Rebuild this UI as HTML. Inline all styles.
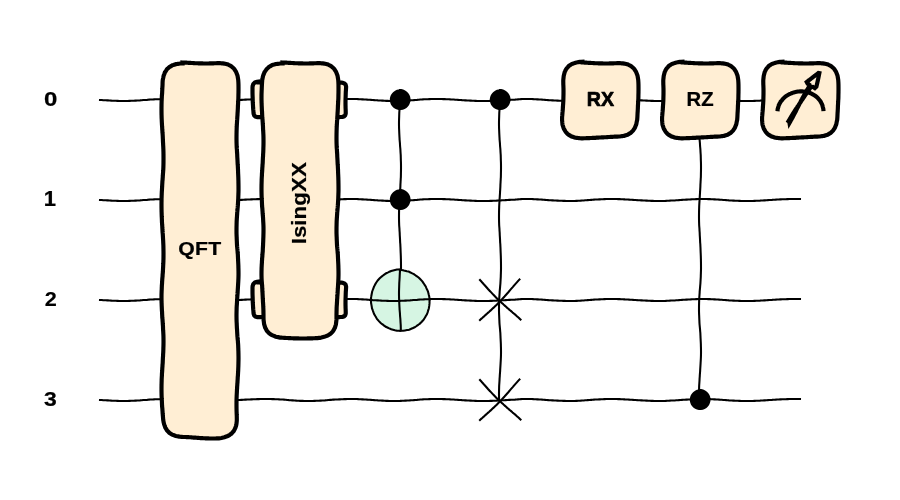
<!DOCTYPE html>
<html><head><meta charset="utf-8"><title>Quantum circuit</title><style>
html,body{margin:0;padding:0;background:#fff;width:900px;height:500px;overflow:hidden}
svg{display:block;will-change:transform}
text{font-family:"Liberation Sans",sans-serif;font-weight:bold;fill:#000}
</style></head><body>
<svg width="900" height="500" viewBox="0 0 900 500">
<rect x="0" y="0" width="900" height="500" fill="#fff"/>
<path fill="none" stroke="#000000" stroke-width="2.08" stroke-linecap="square" stroke-linejoin="round" d="M100 100 101 100.03 102 100.07 103 100.17 104 100.2 105 100.27 106 100.31 107 100.35 108 100.4 109 100.47 110 100.53 111 100.59 112 100.67 113 100.72 114 100.76 115 100.79 116 100.82 117 100.84 118 100.89 119 100.92 120 100.95 121 100.98 122 100.99 123 101 124 101 125 100.99 126 100.98 127 100.95 128 100.94 129 100.9 130 100.85 131 100.81 132 100.77 133 100.73 134 100.69 135 100.63 136 100.59 137 100.54 138 100.47 139 100.44 140 100.38 141 100.27 142 100.2 143 100.08 144 100.04 145 99.98 146 99.93 147 99.85 148 99.73 149 99.66 150 99.58 151 99.54 152 99.49 153 99.42 154 99.36 155 99.28 156 99.25 157 99.23 158 99.2 159 99.18 160 99.16 161 99.11 162 99.07 163 99.04 164 99.02 165 99.01 166 99 167 99 168 99 169 99 170 99.02 171 99.02 172 99.05 173 99.07 174 99.09 175 99.1 176 99.12 177 99.14 178 99.2 179 99.28 180 99.31 181 99.38 182 99.43 183 99.47 184 99.56 185 99.59 186 99.62 187 99.65 188 99.7 189 99.77 190 99.81 191 99.9 192 99.95 193 100 194 100.04 195 100.14 196 100.19 197 100.25 198 100.32 199 100.42 200 100.46 201 100.51 202 100.57 203 100.62 204 100.7 205 100.73 206 100.8 207 100.82 208 100.85 209 100.89 210 100.92 211 100.93 212 100.96 213 100.97 214 100.98 215 100.99 216 101 217 101 218 100.99 219 100.98 220 100.97 221 100.95 222 100.93 223 100.89 224 100.86 225 100.84 226 100.77 227 100.7 228 100.6 229 100.55 230 100.5 231 100.46 232 100.36 233 100.3 234 100.27 235 100.24 236 100.18 237 100.11 238 100.06 239 99.99 240 99.96 241 99.91 242 99.87 243 99.81 244 99.7 245 99.65 246 99.61 247 99.56 248 99.5 249 99.47 250 99.44 251 99.4 252 99.37 253 99.31 254 99.27 255 99.24 256 99.19 257 99.16 258 99.14 259 99.1 260 99.08 261 99.07 262 99.05 263 99.03 264 99.02 265 99.01 266 99.01 267 99 268 99 269 99 270 99.02 271 99.04 272 99.09 273 99.11 274 99.15 275 99.19 276 99.21 277 99.23 278 99.3 279 99.35 280 99.42 281 99.45 282 99.53 283 99.57 284 99.64 285 99.75 286 99.82 287 99.92 288 99.98 289 100.1 290 100.17 291 100.29 292 100.34 293 100.37 294 100.46 295 100.52 296 100.6 297 100.67 298 100.72 299 100.79 300 100.84 301 100.86 302 100.89 303 100.91 304 100.93 305 100.96 306 100.98 307 100.99 308 100.99 309 101 310 101 311 100.99 312 100.98 313 100.94 314 100.91 315 100.87 316 100.81 317 100.79 318 100.74 319 100.71 320 100.65 321 100.62 322 100.57 323 100.54 324 100.46 325 100.39 326 100.28 327 100.2 328 100.08 329 100.01 330 99.9 331 99.86 332 99.75 333 99.66 334 99.61 335 99.58 336 99.52 337 99.48 338 99.45 339 99.38 340 99.34 341 99.29 342 99.24 343 99.19 344 99.15 345 99.12 346 99.11 347 99.07 348 99.05 349 99.03 350 99.01 351 99 352 99 353 99 354 99.01 355 99.03 356 99.06 357 99.08 358 99.13 359 99.18 360 99.23 361 99.28 362 99.35 363 99.4 364 99.45 365 99.52 366 99.58 367 99.63 368 99.71 369 99.76 370 99.83 371 99.86 372 99.93 373 100.03 374 100.09 375 100.19 376 100.22 377 100.27 378 100.39 379 100.42 380 100.48 381 100.51 382 100.6 383 100.64 384 100.73 385 100.79 386 100.85 387 100.87 388 100.89 389 100.92 390 100.95 391 100.96 392 100.98 393 101 394 101 395 101 396 100.98 397 100.97 398 100.95 399 100.92 400 100.9 401 100.84 402 100.77 403 100.75 404 100.71 405 100.66 406 100.62 407 100.56 408 100.46 409 100.42 410 100.37 411 100.31 412 100.26 413 100.2 414 100.14 415 100.07 416 99.95 417 99.9 418 99.79 419 99.68 420 99.57 421 99.54 422 99.44 423 99.36 424 99.32 425 99.28 426 99.26 427 99.2 428 99.18 429 99.15 430 99.1 431 99.08 432 99.06 433 99.04 434 99.03 435 99.01 436 99 437 99 438 99.01 439 99.02 440 99.04 441 99.07 442 99.08 443 99.11 444 99.13 445 99.15 446 99.2 447 99.24 448 99.28 449 99.31 450 99.35 451 99.43 452 99.47 453 99.54 454 99.58 455 99.69 456 99.77 457 99.8 458 99.86 459 99.93 460 99.99 461 100.03 462 100.14 463 100.2 464 100.25 465 100.35 466 100.39 467 100.42 468 100.52 469 100.56 470 100.61 471 100.65 472 100.71 473 100.76 474 100.82 475 100.84 476 100.89 477 100.93 478 100.95 479 100.98 480 100.99 481 100.99 482 101 483 101 484 101 485 100.99 486 100.99 487 100.97 488 100.95 489 100.94 490 100.91 491 100.88 492 100.84 493 100.81 494 100.74 495 100.7 496 100.67 497 100.6 498 100.51 499 100.45 500 100.42 501 100.38 502 100.28 503 100.24 504 100.2 505 100.16 506 100.09 507 100.04 508 100.01 509 99.9 510 99.86 511 99.83 512 99.75 513 99.71 514 99.67 515 99.62 516 99.51 517 99.42 518 99.35 519 99.26 520 99.19 521 99.14 522 99.08 523 99.05 524 99.04 525 99.01 526 99 527 99 528 99.01 529 99.02 530 99.04 531 99.07 532 99.08 533 99.11 534 99.18 535 99.22 536 99.27 537 99.35 538 99.4 539 99.43 540 99.49 541 99.58 542 99.61 543 99.72 544 99.83 545 99.86 546 99.95 547 100.01 548 100.12 549 100.23 550 100.27 551 100.31 552 100.35 553 100.39 554 100.47 555 100.54 556 100.57 557 100.6 558 100.66 559 100.7 560 100.73 561 100.76 562 100.8 563 100.85 564 100.88 565 100.91 566 100.93 567 100.96 568 100.98 569 100.99 570 101 571 101 572 101 573 100.99 574 100.97 575 100.94 576 100.89 577 100.85 578 100.79 579 100.72 580 100.67 581 100.62 582 100.58 583 100.51 584 100.44 585 100.33 586 100.27 587 100.16 588 100.1 589 100.05 590 99.97 591 99.91 592 99.84 593 99.72 594 99.62 595 99.54 596 99.5 597 99.47 598 99.43 599 99.38 600 99.35 601 99.27 602 99.2 603 99.18 604 99.12 605 99.09 606 99.07 607 99.05 608 99.03 609 99.02 610 99.01 611 99 612 99 613 99.01 614 99.02 615 99.03 616 99.04 617 99.08 618 99.1 619 99.13 620 99.16 621 99.17 622 99.22 623 99.27 624 99.34 625 99.4 626 99.42 627 99.46 628 99.55 629 99.63 630 99.7 631 99.74 632 99.78 633 99.85 634 99.95 635 99.99 636 100.04 637 100.16 638 100.22 639 100.25 640 100.29 641 100.34 642 100.38 643 100.43 644 100.52 645 100.56 646 100.6 647 100.66 648 100.74 649 100.77 650 100.81 651 100.85 652 100.87 653 100.89 654 100.93 655 100.96 656 100.98 657 100.99 658 101 659 101 660 101 661 100.99 662 100.98 663 100.97 664 100.95 665 100.92 666 100.88 667 100.82 668 100.78 669 100.72 670 100.63 671 100.58 672 100.54 673 100.51 674 100.48 675 100.42 676 100.33 677 100.26 678 100.22 679 100.14 680 100.07 681 100.01 682 99.9 683 99.78 684 99.74 685 99.7 686 99.64 687 99.61 688 99.57 689 99.52 690 99.42 691 99.37 692 99.32 693 99.29 694 99.24 695 99.19 696 99.16 697 99.14 698 99.08 699 99.07 700 99.04 701 99.01 702 99.01 703 99 704 99.01 705 99.01 706 99.02 707 99.05 708 99.09 709 99.12 710 99.16 711 99.22 712 99.25 713 99.28 714 99.34 715 99.36 716 99.45 717 99.53 718 99.58 719 99.62 720 99.71 721 99.74 722 99.83 723 99.92 724 100.04 725 100.08 726 100.13 727 100.23 728 100.33 729 100.41 730 100.44 731 100.49 732 100.53 733 100.61 734 100.64 735 100.69 736 100.73 737 100.8 738 100.83 739 100.89 740 100.9 741 100.95 742 100.97 743 100.98 744 100.99 745 100.99 746 101 747 101 748 101 749 100.99 750 100.97 751 100.96 752 100.94 753 100.92 754 100.9 755 100.88 756 100.83 757 100.79 758 100.73 759 100.7 760 100.66 761 100.58 762 100.52 763 100.47 764 100.4 765 100.36 766 100.3 767 100.21 768 100.09 769 100.02 770 99.99 771 99.92 772 99.88 773 99.81 774 99.77 775 99.72 776 99.62 777 99.56 778 99.48 779 99.44 780 99.41 781 99.38 782 99.33 783 99.3 784 99.23 785 99.2 786 99.17 787 99.15 788 99.12 789 99.08 790 99.07 791 99.04 792 99.03 793 99.02 794 99.01 795 99 796 99 797 99 798 99.01 800 99.03"/>
<path fill="none" stroke="#000000" stroke-width="2.08" stroke-linecap="square" stroke-linejoin="round" d="M100 200 101 200.03 102 200.07 103 200.17 104 200.2 105 200.27 106 200.31 107 200.35 108 200.4 109 200.47 110 200.53 111 200.59 112 200.67 113 200.72 114 200.76 115 200.79 116 200.82 117 200.84 118 200.89 119 200.92 120 200.95 121 200.98 122 200.99 123 201 124 201 125 200.99 126 200.98 127 200.95 128 200.94 129 200.9 130 200.85 131 200.81 132 200.77 133 200.73 134 200.69 135 200.63 136 200.59 137 200.54 138 200.47 139 200.44 140 200.38 141 200.27 142 200.2 143 200.08 144 200.04 145 199.98 146 199.93 147 199.85 148 199.73 149 199.66 150 199.58 151 199.54 152 199.49 153 199.42 154 199.36 155 199.28 156 199.25 157 199.23 158 199.2 159 199.18 160 199.16 161 199.11 162 199.07 163 199.04 164 199.02 165 199.01 166 199 167 199 168 199 169 199 170 199.02 171 199.02 172 199.05 173 199.07 174 199.09 175 199.1 176 199.12 177 199.14 178 199.2 179 199.28 180 199.31 181 199.38 182 199.43 183 199.47 184 199.56 185 199.59 186 199.62 187 199.65 188 199.7 189 199.77 190 199.81 191 199.9 192 199.95 193 200 194 200.04 195 200.14 196 200.19 197 200.25 198 200.32 199 200.42 200 200.46 201 200.51 202 200.57 203 200.62 204 200.7 205 200.73 206 200.8 207 200.82 208 200.85 209 200.89 210 200.92 211 200.93 212 200.96 213 200.97 214 200.98 215 200.99 216 201 217 201 218 200.99 219 200.98 220 200.97 221 200.95 222 200.93 223 200.89 224 200.86 225 200.84 226 200.77 227 200.7 228 200.6 229 200.55 230 200.5 231 200.46 232 200.36 233 200.3 234 200.27 235 200.24 236 200.18 237 200.11 238 200.06 239 199.99 240 199.96 241 199.91 242 199.87 243 199.81 244 199.7 245 199.65 246 199.61 247 199.56 248 199.5 249 199.47 250 199.44 251 199.4 252 199.37 253 199.31 254 199.27 255 199.24 256 199.19 257 199.16 258 199.14 259 199.1 260 199.08 261 199.07 262 199.05 263 199.03 264 199.02 265 199.01 266 199.01 267 199 268 199 269 199 270 199.02 271 199.04 272 199.09 273 199.11 274 199.15 275 199.19 276 199.21 277 199.23 278 199.3 279 199.35 280 199.42 281 199.45 282 199.53 283 199.57 284 199.64 285 199.75 286 199.82 287 199.92 288 199.98 289 200.1 290 200.17 291 200.29 292 200.34 293 200.37 294 200.46 295 200.52 296 200.6 297 200.67 298 200.72 299 200.79 300 200.84 301 200.86 302 200.89 303 200.91 304 200.93 305 200.96 306 200.98 307 200.99 308 200.99 309 201 310 201 311 200.99 312 200.98 313 200.94 314 200.91 315 200.87 316 200.81 317 200.79 318 200.74 319 200.71 320 200.65 321 200.62 322 200.57 323 200.54 324 200.46 325 200.39 326 200.28 327 200.2 328 200.08 329 200.01 330 199.9 331 199.86 332 199.75 333 199.66 334 199.61 335 199.58 336 199.52 337 199.48 338 199.45 339 199.38 340 199.34 341 199.29 342 199.24 343 199.19 344 199.15 345 199.12 346 199.11 347 199.07 348 199.05 349 199.03 350 199.01 351 199 352 199 353 199 354 199.01 355 199.03 356 199.06 357 199.08 358 199.13 359 199.18 360 199.23 361 199.28 362 199.35 363 199.4 364 199.45 365 199.52 366 199.58 367 199.63 368 199.71 369 199.76 370 199.83 371 199.86 372 199.93 373 200.03 374 200.09 375 200.19 376 200.22 377 200.27 378 200.39 379 200.42 380 200.48 381 200.51 382 200.6 383 200.64 384 200.73 385 200.79 386 200.85 387 200.87 388 200.89 389 200.92 390 200.95 391 200.96 392 200.98 393 201 394 201 395 201 396 200.98 397 200.97 398 200.95 399 200.92 400 200.9 401 200.84 402 200.77 403 200.75 404 200.71 405 200.66 406 200.62 407 200.56 408 200.46 409 200.42 410 200.37 411 200.31 412 200.26 413 200.2 414 200.14 415 200.07 416 199.95 417 199.9 418 199.79 419 199.68 420 199.57 421 199.54 422 199.44 423 199.36 424 199.32 425 199.28 426 199.26 427 199.2 428 199.18 429 199.15 430 199.1 431 199.08 432 199.06 433 199.04 434 199.03 435 199.01 436 199 437 199 438 199.01 439 199.02 440 199.04 441 199.07 442 199.08 443 199.11 444 199.13 445 199.15 446 199.2 447 199.24 448 199.28 449 199.31 450 199.35 451 199.43 452 199.47 453 199.54 454 199.58 455 199.69 456 199.77 457 199.8 458 199.86 459 199.93 460 199.99 461 200.03 462 200.14 463 200.2 464 200.25 465 200.35 466 200.39 467 200.42 468 200.52 469 200.56 470 200.61 471 200.65 472 200.71 473 200.76 474 200.82 475 200.84 476 200.89 477 200.93 478 200.95 479 200.98 480 200.99 481 200.99 482 201 483 201 484 201 485 200.99 486 200.99 487 200.97 488 200.95 489 200.94 490 200.91 491 200.88 492 200.84 493 200.81 494 200.74 495 200.7 496 200.67 497 200.6 498 200.51 499 200.45 500 200.42 501 200.38 502 200.28 503 200.24 504 200.2 505 200.16 506 200.09 507 200.04 508 200.01 509 199.9 510 199.86 511 199.83 512 199.75 513 199.71 514 199.67 515 199.62 516 199.51 517 199.42 518 199.35 519 199.26 520 199.19 521 199.14 522 199.08 523 199.05 524 199.04 525 199.01 526 199 527 199 528 199.01 529 199.02 530 199.04 531 199.07 532 199.08 533 199.11 534 199.18 535 199.22 536 199.27 537 199.35 538 199.4 539 199.43 540 199.49 541 199.58 542 199.61 543 199.72 544 199.83 545 199.86 546 199.95 547 200.01 548 200.12 549 200.23 550 200.27 551 200.31 552 200.35 553 200.39 554 200.47 555 200.54 556 200.57 557 200.6 558 200.66 559 200.7 560 200.73 561 200.76 562 200.8 563 200.85 564 200.88 565 200.91 566 200.93 567 200.96 568 200.98 569 200.99 570 201 571 201 572 201 573 200.99 574 200.97 575 200.94 576 200.89 577 200.85 578 200.79 579 200.72 580 200.67 581 200.62 582 200.58 583 200.51 584 200.44 585 200.33 586 200.27 587 200.16 588 200.1 589 200.05 590 199.97 591 199.91 592 199.84 593 199.72 594 199.62 595 199.54 596 199.5 597 199.47 598 199.43 599 199.38 600 199.35 601 199.27 602 199.2 603 199.18 604 199.12 605 199.09 606 199.07 607 199.05 608 199.03 609 199.02 610 199.01 611 199 612 199 613 199.01 614 199.02 615 199.03 616 199.04 617 199.08 618 199.1 619 199.13 620 199.16 621 199.17 622 199.22 623 199.27 624 199.34 625 199.4 626 199.42 627 199.46 628 199.55 629 199.63 630 199.7 631 199.74 632 199.78 633 199.85 634 199.95 635 199.99 636 200.04 637 200.16 638 200.22 639 200.25 640 200.29 641 200.34 642 200.38 643 200.43 644 200.52 645 200.56 646 200.6 647 200.66 648 200.74 649 200.77 650 200.81 651 200.85 652 200.87 653 200.89 654 200.93 655 200.96 656 200.98 657 200.99 658 201 659 201 660 201 661 200.99 662 200.98 663 200.97 664 200.95 665 200.92 666 200.88 667 200.82 668 200.78 669 200.72 670 200.63 671 200.58 672 200.54 673 200.51 674 200.48 675 200.42 676 200.33 677 200.26 678 200.22 679 200.14 680 200.07 681 200.01 682 199.9 683 199.78 684 199.74 685 199.7 686 199.64 687 199.61 688 199.57 689 199.52 690 199.42 691 199.37 692 199.32 693 199.29 694 199.24 695 199.19 696 199.16 697 199.14 698 199.08 699 199.07 700 199.04 701 199.01 702 199.01 703 199 704 199.01 705 199.01 706 199.02 707 199.05 708 199.09 709 199.12 710 199.16 711 199.22 712 199.25 713 199.28 714 199.34 715 199.36 716 199.45 717 199.53 718 199.58 719 199.62 720 199.71 721 199.74 722 199.83 723 199.92 724 200.04 725 200.08 726 200.13 727 200.23 728 200.33 729 200.41 730 200.44 731 200.49 732 200.53 733 200.61 734 200.64 735 200.69 736 200.73 737 200.8 738 200.83 739 200.89 740 200.9 741 200.95 742 200.97 743 200.98 744 200.99 745 200.99 746 201 747 201 748 201 749 200.99 750 200.97 751 200.96 752 200.94 753 200.92 754 200.9 755 200.88 756 200.83 757 200.79 758 200.73 759 200.7 760 200.66 761 200.58 762 200.52 763 200.47 764 200.4 765 200.36 766 200.3 767 200.21 768 200.09 769 200.02 770 199.99 771 199.92 772 199.88 773 199.81 774 199.77 775 199.72 776 199.62 777 199.56 778 199.48 779 199.44 780 199.41 781 199.38 782 199.33 783 199.3 784 199.23 785 199.2 786 199.17 787 199.15 788 199.12 789 199.08 790 199.07 791 199.04 792 199.03 793 199.02 794 199.01 795 199 796 199 797 199 798 199.01 800 199.03"/>
<path fill="none" stroke="#000000" stroke-width="2.08" stroke-linecap="square" stroke-linejoin="round" d="M100 300 101 300.03 102 300.07 103 300.17 104 300.2 105 300.27 106 300.31 107 300.35 108 300.4 109 300.47 110 300.53 111 300.59 112 300.67 113 300.72 114 300.76 115 300.79 116 300.82 117 300.84 118 300.89 119 300.92 120 300.95 121 300.98 122 300.99 123 301 124 301 125 300.99 126 300.98 127 300.95 128 300.94 129 300.9 130 300.85 131 300.81 132 300.77 133 300.73 134 300.69 135 300.63 136 300.59 137 300.54 138 300.47 139 300.44 140 300.38 141 300.27 142 300.2 143 300.08 144 300.04 145 299.98 146 299.93 147 299.85 148 299.73 149 299.66 150 299.58 151 299.54 152 299.49 153 299.42 154 299.36 155 299.28 156 299.25 157 299.23 158 299.2 159 299.18 160 299.16 161 299.11 162 299.07 163 299.04 164 299.02 165 299.01 166 299 167 299 168 299 169 299 170 299.02 171 299.02 172 299.05 173 299.07 174 299.09 175 299.1 176 299.12 177 299.14 178 299.2 179 299.28 180 299.31 181 299.38 182 299.43 183 299.47 184 299.56 185 299.59 186 299.62 187 299.65 188 299.7 189 299.77 190 299.81 191 299.9 192 299.95 193 300 194 300.04 195 300.14 196 300.19 197 300.25 198 300.32 199 300.42 200 300.46 201 300.51 202 300.57 203 300.62 204 300.7 205 300.73 206 300.8 207 300.82 208 300.85 209 300.89 210 300.92 211 300.93 212 300.96 213 300.97 214 300.98 215 300.99 216 301 217 301 218 300.99 219 300.98 220 300.97 221 300.95 222 300.93 223 300.89 224 300.86 225 300.84 226 300.77 227 300.7 228 300.6 229 300.55 230 300.5 231 300.46 232 300.36 233 300.3 234 300.27 235 300.24 236 300.18 237 300.11 238 300.06 239 299.99 240 299.96 241 299.91 242 299.87 243 299.81 244 299.7 245 299.65 246 299.61 247 299.56 248 299.5 249 299.47 250 299.44 251 299.4 252 299.37 253 299.31 254 299.27 255 299.24 256 299.19 257 299.16 258 299.14 259 299.1 260 299.08 261 299.07 262 299.05 263 299.03 264 299.02 265 299.01 266 299.01 267 299 268 299 269 299 270 299.02 271 299.04 272 299.09 273 299.11 274 299.15 275 299.19 276 299.21 277 299.23 278 299.3 279 299.35 280 299.42 281 299.45 282 299.53 283 299.57 284 299.64 285 299.75 286 299.82 287 299.92 288 299.98 289 300.1 290 300.17 291 300.29 292 300.34 293 300.37 294 300.46 295 300.52 296 300.6 297 300.67 298 300.72 299 300.79 300 300.84 301 300.86 302 300.89 303 300.91 304 300.93 305 300.96 306 300.98 307 300.99 308 300.99 309 301 310 301 311 300.99 312 300.98 313 300.94 314 300.91 315 300.87 316 300.81 317 300.79 318 300.74 319 300.71 320 300.65 321 300.62 322 300.57 323 300.54 324 300.46 325 300.39 326 300.28 327 300.2 328 300.08 329 300.01 330 299.9 331 299.86 332 299.75 333 299.66 334 299.61 335 299.58 336 299.52 337 299.48 338 299.45 339 299.38 340 299.34 341 299.29 342 299.24 343 299.19 344 299.15 345 299.12 346 299.11 347 299.07 348 299.05 349 299.03 350 299.01 351 299 352 299 353 299 354 299.01 355 299.03 356 299.06 357 299.08 358 299.13 359 299.18 360 299.23 361 299.28 362 299.35 363 299.4 364 299.45 365 299.52 366 299.58 367 299.63 368 299.71 369 299.76 370 299.83 371 299.86 372 299.93 373 300.03 374 300.09 375 300.19 376 300.22 377 300.27 378 300.39 379 300.42 380 300.48 381 300.51 382 300.6 383 300.64 384 300.73 385 300.79 386 300.85 387 300.87 388 300.89 389 300.92 390 300.95 391 300.96 392 300.98 393 301 394 301 395 301 396 300.98 397 300.97 398 300.95 399 300.92 400 300.9 401 300.84 402 300.77 403 300.75 404 300.71 405 300.66 406 300.62 407 300.56 408 300.46 409 300.42 410 300.37 411 300.31 412 300.26 413 300.2 414 300.14 415 300.07 416 299.95 417 299.9 418 299.79 419 299.68 420 299.57 421 299.54 422 299.44 423 299.36 424 299.32 425 299.28 426 299.26 427 299.2 428 299.18 429 299.15 430 299.1 431 299.08 432 299.06 433 299.04 434 299.03 435 299.01 436 299 437 299 438 299.01 439 299.02 440 299.04 441 299.07 442 299.08 443 299.11 444 299.13 445 299.15 446 299.2 447 299.24 448 299.28 449 299.31 450 299.35 451 299.43 452 299.47 453 299.54 454 299.58 455 299.69 456 299.77 457 299.8 458 299.86 459 299.93 460 299.99 461 300.03 462 300.14 463 300.2 464 300.25 465 300.35 466 300.39 467 300.42 468 300.52 469 300.56 470 300.61 471 300.65 472 300.71 473 300.76 474 300.82 475 300.84 476 300.89 477 300.93 478 300.95 479 300.98 480 300.99 481 300.99 482 301 483 301 484 301 485 300.99 486 300.99 487 300.97 488 300.95 489 300.94 490 300.91 491 300.88 492 300.84 493 300.81 494 300.74 495 300.7 496 300.67 497 300.6 498 300.51 499 300.45 500 300.42 501 300.38 502 300.28 503 300.24 504 300.2 505 300.16 506 300.09 507 300.04 508 300.01 509 299.9 510 299.86 511 299.83 512 299.75 513 299.71 514 299.67 515 299.62 516 299.51 517 299.42 518 299.35 519 299.26 520 299.19 521 299.14 522 299.08 523 299.05 524 299.04 525 299.01 526 299 527 299 528 299.01 529 299.02 530 299.04 531 299.07 532 299.08 533 299.11 534 299.18 535 299.22 536 299.27 537 299.35 538 299.4 539 299.43 540 299.49 541 299.58 542 299.61 543 299.72 544 299.83 545 299.86 546 299.95 547 300.01 548 300.12 549 300.23 550 300.27 551 300.31 552 300.35 553 300.39 554 300.47 555 300.54 556 300.57 557 300.6 558 300.66 559 300.7 560 300.73 561 300.76 562 300.8 563 300.85 564 300.88 565 300.91 566 300.93 567 300.96 568 300.98 569 300.99 570 301 571 301 572 301 573 300.99 574 300.97 575 300.94 576 300.89 577 300.85 578 300.79 579 300.72 580 300.67 581 300.62 582 300.58 583 300.51 584 300.44 585 300.33 586 300.27 587 300.16 588 300.1 589 300.05 590 299.97 591 299.91 592 299.84 593 299.72 594 299.62 595 299.54 596 299.5 597 299.47 598 299.43 599 299.38 600 299.35 601 299.27 602 299.2 603 299.18 604 299.12 605 299.09 606 299.07 607 299.05 608 299.03 609 299.02 610 299.01 611 299 612 299 613 299.01 614 299.02 615 299.03 616 299.04 617 299.08 618 299.1 619 299.13 620 299.16 621 299.17 622 299.22 623 299.27 624 299.34 625 299.4 626 299.42 627 299.46 628 299.55 629 299.63 630 299.7 631 299.74 632 299.78 633 299.85 634 299.95 635 299.99 636 300.04 637 300.16 638 300.22 639 300.25 640 300.29 641 300.34 642 300.38 643 300.43 644 300.52 645 300.56 646 300.6 647 300.66 648 300.74 649 300.77 650 300.81 651 300.85 652 300.87 653 300.89 654 300.93 655 300.96 656 300.98 657 300.99 658 301 659 301 660 301 661 300.99 662 300.98 663 300.97 664 300.95 665 300.92 666 300.88 667 300.82 668 300.78 669 300.72 670 300.63 671 300.58 672 300.54 673 300.51 674 300.48 675 300.42 676 300.33 677 300.26 678 300.22 679 300.14 680 300.07 681 300.01 682 299.9 683 299.78 684 299.74 685 299.7 686 299.64 687 299.61 688 299.57 689 299.52 690 299.42 691 299.37 692 299.32 693 299.29 694 299.24 695 299.19 696 299.16 697 299.14 698 299.08 699 299.07 700 299.04 701 299.01 702 299.01 703 299 704 299.01 705 299.01 706 299.02 707 299.05 708 299.09 709 299.12 710 299.16 711 299.22 712 299.25 713 299.28 714 299.34 715 299.36 716 299.45 717 299.53 718 299.58 719 299.62 720 299.71 721 299.74 722 299.83 723 299.92 724 300.04 725 300.08 726 300.13 727 300.23 728 300.33 729 300.41 730 300.44 731 300.49 732 300.53 733 300.61 734 300.64 735 300.69 736 300.73 737 300.8 738 300.83 739 300.89 740 300.9 741 300.95 742 300.97 743 300.98 744 300.99 745 300.99 746 301 747 301 748 301 749 300.99 750 300.97 751 300.96 752 300.94 753 300.92 754 300.9 755 300.88 756 300.83 757 300.79 758 300.73 759 300.7 760 300.66 761 300.58 762 300.52 763 300.47 764 300.4 765 300.36 766 300.3 767 300.21 768 300.09 769 300.02 770 299.99 771 299.92 772 299.88 773 299.81 774 299.77 775 299.72 776 299.62 777 299.56 778 299.48 779 299.44 780 299.41 781 299.38 782 299.33 783 299.3 784 299.23 785 299.2 786 299.17 787 299.15 788 299.12 789 299.08 790 299.07 791 299.04 792 299.03 793 299.02 794 299.01 795 299 796 299 797 299 798 299.01 800 299.03"/>
<path fill="none" stroke="#000000" stroke-width="2.08" stroke-linecap="square" stroke-linejoin="round" d="M100 400 101 400.03 102 400.07 103 400.17 104 400.2 105 400.27 106 400.31 107 400.35 108 400.4 109 400.47 110 400.53 111 400.59 112 400.67 113 400.72 114 400.76 115 400.79 116 400.82 117 400.84 118 400.89 119 400.92 120 400.95 121 400.98 122 400.99 123 401 124 401 125 400.99 126 400.98 127 400.95 128 400.94 129 400.9 130 400.85 131 400.81 132 400.77 133 400.73 134 400.69 135 400.63 136 400.59 137 400.54 138 400.47 139 400.44 140 400.38 141 400.27 142 400.2 143 400.08 144 400.04 145 399.98 146 399.93 147 399.85 148 399.73 149 399.66 150 399.58 151 399.54 152 399.49 153 399.42 154 399.36 155 399.28 156 399.25 157 399.23 158 399.2 159 399.18 160 399.16 161 399.11 162 399.07 163 399.04 164 399.02 165 399.01 166 399 167 399 168 399 169 399 170 399.02 171 399.02 172 399.05 173 399.07 174 399.09 175 399.1 176 399.12 177 399.14 178 399.2 179 399.28 180 399.31 181 399.38 182 399.43 183 399.47 184 399.56 185 399.59 186 399.62 187 399.65 188 399.7 189 399.77 190 399.81 191 399.9 192 399.95 193 400 194 400.04 195 400.14 196 400.19 197 400.25 198 400.32 199 400.42 200 400.46 201 400.51 202 400.57 203 400.62 204 400.7 205 400.73 206 400.8 207 400.82 208 400.85 209 400.89 210 400.92 211 400.93 212 400.96 213 400.97 214 400.98 215 400.99 216 401 217 401 218 400.99 219 400.98 220 400.97 221 400.95 222 400.93 223 400.89 224 400.86 225 400.84 226 400.77 227 400.7 228 400.6 229 400.55 230 400.5 231 400.46 232 400.36 233 400.3 234 400.27 235 400.24 236 400.18 237 400.11 238 400.06 239 399.99 240 399.96 241 399.91 242 399.87 243 399.81 244 399.7 245 399.65 246 399.61 247 399.56 248 399.5 249 399.47 250 399.44 251 399.4 252 399.37 253 399.31 254 399.27 255 399.24 256 399.19 257 399.16 258 399.14 259 399.1 260 399.08 261 399.07 262 399.05 263 399.03 264 399.02 265 399.01 266 399.01 267 399 268 399 269 399 270 399.02 271 399.04 272 399.09 273 399.11 274 399.15 275 399.19 276 399.21 277 399.23 278 399.3 279 399.35 280 399.42 281 399.45 282 399.53 283 399.57 284 399.64 285 399.75 286 399.82 287 399.92 288 399.98 289 400.1 290 400.17 291 400.29 292 400.34 293 400.37 294 400.46 295 400.52 296 400.6 297 400.67 298 400.72 299 400.79 300 400.84 301 400.86 302 400.89 303 400.91 304 400.93 305 400.96 306 400.98 307 400.99 308 400.99 309 401 310 401 311 400.99 312 400.98 313 400.94 314 400.91 315 400.87 316 400.81 317 400.79 318 400.74 319 400.71 320 400.65 321 400.62 322 400.57 323 400.54 324 400.46 325 400.39 326 400.28 327 400.2 328 400.08 329 400.01 330 399.9 331 399.86 332 399.75 333 399.66 334 399.61 335 399.58 336 399.52 337 399.48 338 399.45 339 399.38 340 399.34 341 399.29 342 399.24 343 399.19 344 399.15 345 399.12 346 399.11 347 399.07 348 399.05 349 399.03 350 399.01 351 399 352 399 353 399 354 399.01 355 399.03 356 399.06 357 399.08 358 399.13 359 399.18 360 399.23 361 399.28 362 399.35 363 399.4 364 399.45 365 399.52 366 399.58 367 399.63 368 399.71 369 399.76 370 399.83 371 399.86 372 399.93 373 400.03 374 400.09 375 400.19 376 400.22 377 400.27 378 400.39 379 400.42 380 400.48 381 400.51 382 400.6 383 400.64 384 400.73 385 400.79 386 400.85 387 400.87 388 400.89 389 400.92 390 400.95 391 400.96 392 400.98 393 401 394 401 395 401 396 400.98 397 400.97 398 400.95 399 400.92 400 400.9 401 400.84 402 400.77 403 400.75 404 400.71 405 400.66 406 400.62 407 400.56 408 400.46 409 400.42 410 400.37 411 400.31 412 400.26 413 400.2 414 400.14 415 400.07 416 399.95 417 399.9 418 399.79 419 399.68 420 399.57 421 399.54 422 399.44 423 399.36 424 399.32 425 399.28 426 399.26 427 399.2 428 399.18 429 399.15 430 399.1 431 399.08 432 399.06 433 399.04 434 399.03 435 399.01 436 399 437 399 438 399.01 439 399.02 440 399.04 441 399.07 442 399.08 443 399.11 444 399.13 445 399.15 446 399.2 447 399.24 448 399.28 449 399.31 450 399.35 451 399.43 452 399.47 453 399.54 454 399.58 455 399.69 456 399.77 457 399.8 458 399.86 459 399.93 460 399.99 461 400.03 462 400.14 463 400.2 464 400.25 465 400.35 466 400.39 467 400.42 468 400.52 469 400.56 470 400.61 471 400.65 472 400.71 473 400.76 474 400.82 475 400.84 476 400.89 477 400.93 478 400.95 479 400.98 480 400.99 481 400.99 482 401 483 401 484 401 485 400.99 486 400.99 487 400.97 488 400.95 489 400.94 490 400.91 491 400.88 492 400.84 493 400.81 494 400.74 495 400.7 496 400.67 497 400.6 498 400.51 499 400.45 500 400.42 501 400.38 502 400.28 503 400.24 504 400.2 505 400.16 506 400.09 507 400.04 508 400.01 509 399.9 510 399.86 511 399.83 512 399.75 513 399.71 514 399.67 515 399.62 516 399.51 517 399.42 518 399.35 519 399.26 520 399.19 521 399.14 522 399.08 523 399.05 524 399.04 525 399.01 526 399 527 399 528 399.01 529 399.02 530 399.04 531 399.07 532 399.08 533 399.11 534 399.18 535 399.22 536 399.27 537 399.35 538 399.4 539 399.43 540 399.49 541 399.58 542 399.61 543 399.72 544 399.83 545 399.86 546 399.95 547 400.01 548 400.12 549 400.23 550 400.27 551 400.31 552 400.35 553 400.39 554 400.47 555 400.54 556 400.57 557 400.6 558 400.66 559 400.7 560 400.73 561 400.76 562 400.8 563 400.85 564 400.88 565 400.91 566 400.93 567 400.96 568 400.98 569 400.99 570 401 571 401 572 401 573 400.99 574 400.97 575 400.94 576 400.89 577 400.85 578 400.79 579 400.72 580 400.67 581 400.62 582 400.58 583 400.51 584 400.44 585 400.33 586 400.27 587 400.16 588 400.1 589 400.05 590 399.97 591 399.91 592 399.84 593 399.72 594 399.62 595 399.54 596 399.5 597 399.47 598 399.43 599 399.38 600 399.35 601 399.27 602 399.2 603 399.18 604 399.12 605 399.09 606 399.07 607 399.05 608 399.03 609 399.02 610 399.01 611 399 612 399 613 399.01 614 399.02 615 399.03 616 399.04 617 399.08 618 399.1 619 399.13 620 399.16 621 399.17 622 399.22 623 399.27 624 399.34 625 399.4 626 399.42 627 399.46 628 399.55 629 399.63 630 399.7 631 399.74 632 399.78 633 399.85 634 399.95 635 399.99 636 400.04 637 400.16 638 400.22 639 400.25 640 400.29 641 400.34 642 400.38 643 400.43 644 400.52 645 400.56 646 400.6 647 400.66 648 400.74 649 400.77 650 400.81 651 400.85 652 400.87 653 400.89 654 400.93 655 400.96 656 400.98 657 400.99 658 401 659 401 660 401 661 400.99 662 400.98 663 400.97 664 400.95 665 400.92 666 400.88 667 400.82 668 400.78 669 400.72 670 400.63 671 400.58 672 400.54 673 400.51 674 400.48 675 400.42 676 400.33 677 400.26 678 400.22 679 400.14 680 400.07 681 400.01 682 399.9 683 399.78 684 399.74 685 399.7 686 399.64 687 399.61 688 399.57 689 399.52 690 399.42 691 399.37 692 399.32 693 399.29 694 399.24 695 399.19 696 399.16 697 399.14 698 399.08 699 399.07 700 399.04 701 399.01 702 399.01 703 399 704 399.01 705 399.01 706 399.02 707 399.05 708 399.09 709 399.12 710 399.16 711 399.22 712 399.25 713 399.28 714 399.34 715 399.36 716 399.45 717 399.53 718 399.58 719 399.62 720 399.71 721 399.74 722 399.83 723 399.92 724 400.04 725 400.08 726 400.13 727 400.23 728 400.33 729 400.41 730 400.44 731 400.49 732 400.53 733 400.61 734 400.64 735 400.69 736 400.73 737 400.8 738 400.83 739 400.89 740 400.9 741 400.95 742 400.97 743 400.98 744 400.99 745 400.99 746 401 747 401 748 401 749 400.99 750 400.97 751 400.96 752 400.94 753 400.92 754 400.9 755 400.88 756 400.83 757 400.79 758 400.73 759 400.7 760 400.66 761 400.58 762 400.52 763 400.47 764 400.4 765 400.36 766 400.3 767 400.21 768 400.09 769 400.02 770 399.99 771 399.92 772 399.88 773 399.81 774 399.77 775 399.72 776 399.62 777 399.56 778 399.48 779 399.44 780 399.41 781 399.38 782 399.33 783 399.3 784 399.23 785 399.2 786 399.17 787 399.15 788 399.12 789 399.08 790 399.07 791 399.04 792 399.03 793 399.02 794 399.01 795 399 796 399 797 399 798 399.01 800 399.03"/>
<path fill="#FFEED4" stroke="#000000" stroke-width="4.17" stroke-linecap="butt" stroke-linejoin="miter" d="M258.5 82.5 259.5 82.53 260.5 82.57 262.5 82.67 263.66 82.78 265.46 83.46 266.58 84.67 267.09 86.44 267.1 87.53 267.03 88.5 266.97 89.5 266.91 90.5 266.83 91.5 266.78 92.5 266.74 93.5 266.71 94.5 266.68 95.5 266.66 96.5 266.61 97.5 266.58 98.5 266.55 99.5 266.52 100.5 266.51 101.5 266.5 102.5 266.5 103.5 266.51 104.5 266.52 105.5 266.55 106.5 266.56 107.5 266.6 108.5 266.65 109.5 266.69 110.5 266.73 112.5 266.7 113.62 266.14 115.33 265.1 116.35 263.49 116.86 262.46 116.96 261.5 117.03 260.5 117.06 258.5 117.12 257.35 117.15 255.52 116.61 254.26 115.49 253.61 113.66 253.48 112.5 253.43 111.5 253.35 110.5 253.23 109.5 253.16 108.5 253.08 107.5 253.04 106.5 252.99 105.5 252.92 104.5 252.86 103.5 252.78 102.5 252.75 101.5 252.73 100.5 252.7 99.5 252.68 98.5 252.66 97.5 252.61 96.5 252.57 95.5 252.54 94.5 252.52 93.5 252.51 92.5 252.5 91.5 252.5 90.5 252.5 89.5 252.5 87.5 252.6 86.26 253.28 84.14 254.78 82.53 257.03 81.69 258.44 81.59 258.5 82.5Z"/>
<path fill="#FFEED4" stroke="#000000" stroke-width="4.17" stroke-linecap="butt" stroke-linejoin="miter" d="M337.5 82.5 338.5 82.53 339.5 82.57 341.5 82.67 342.66 82.78 344.46 83.46 345.58 84.67 346.09 86.44 346.1 87.53 346.03 88.5 345.97 89.5 345.91 90.5 345.83 91.5 345.78 92.5 345.74 93.5 345.71 94.5 345.68 95.5 345.66 96.5 345.61 97.5 345.58 98.5 345.55 99.5 345.52 100.5 345.51 101.5 345.5 102.5 345.5 103.5 345.51 104.5 345.52 105.5 345.55 106.5 345.56 107.5 345.6 108.5 345.65 109.5 345.69 110.5 345.73 112.5 345.7 113.62 345.14 115.33 344.1 116.35 342.49 116.86 341.46 116.96 340.5 117.03 339.5 117.06 337.5 117.12 336.35 117.15 334.52 116.61 333.26 115.49 332.61 113.66 332.48 112.5 332.43 111.5 332.35 110.5 332.23 109.5 332.16 108.5 332.08 107.5 332.04 106.5 331.99 105.5 331.92 104.5 331.86 103.5 331.78 102.5 331.75 101.5 331.73 100.5 331.7 99.5 331.68 98.5 331.66 97.5 331.61 96.5 331.57 95.5 331.54 94.5 331.52 93.5 331.51 92.5 331.5 91.5 331.5 90.5 331.5 89.5 331.5 87.5 331.6 86.26 332.28 84.14 333.78 82.53 336.03 81.69 337.44 81.59 337.5 82.5Z"/>
<path fill="#FFEED4" stroke="#000000" stroke-width="4.17" stroke-linecap="butt" stroke-linejoin="miter" d="M258.5 282.5 259.5 282.53 260.5 282.57 262.5 282.67 263.66 282.78 265.46 283.46 266.58 284.67 267.09 286.44 267.1 287.53 267.03 288.5 266.97 289.5 266.91 290.5 266.83 291.5 266.78 292.5 266.74 293.5 266.71 294.5 266.68 295.5 266.66 296.5 266.61 297.5 266.58 298.5 266.55 299.5 266.52 300.5 266.51 301.5 266.5 302.5 266.5 303.5 266.51 304.5 266.52 305.5 266.55 306.5 266.56 307.5 266.6 308.5 266.65 309.5 266.69 310.5 266.73 312.5 266.7 313.62 266.14 315.33 265.1 316.35 263.49 316.86 262.46 316.96 261.5 317.03 260.5 317.06 258.5 317.12 257.35 317.15 255.52 316.61 254.26 315.49 253.61 313.66 253.48 312.5 253.43 311.5 253.35 310.5 253.23 309.5 253.16 308.5 253.08 307.5 253.04 306.5 252.99 305.5 252.92 304.5 252.86 303.5 252.78 302.5 252.75 301.5 252.73 300.5 252.7 299.5 252.68 298.5 252.66 297.5 252.61 296.5 252.57 295.5 252.54 294.5 252.52 293.5 252.51 292.5 252.5 291.5 252.5 290.5 252.5 289.5 252.5 287.5 252.6 286.26 253.28 284.14 254.78 282.53 257.03 281.69 258.44 281.59 258.5 282.5Z"/>
<path fill="#FFEED4" stroke="#000000" stroke-width="4.17" stroke-linecap="butt" stroke-linejoin="miter" d="M337.5 282.5 338.5 282.53 339.5 282.57 341.5 282.67 342.66 282.78 344.46 283.46 345.58 284.67 346.09 286.44 346.1 287.53 346.03 288.5 345.97 289.5 345.91 290.5 345.83 291.5 345.78 292.5 345.74 293.5 345.71 294.5 345.68 295.5 345.66 296.5 345.61 297.5 345.58 298.5 345.55 299.5 345.52 300.5 345.51 301.5 345.5 302.5 345.5 303.5 345.51 304.5 345.52 305.5 345.55 306.5 345.56 307.5 345.6 308.5 345.65 309.5 345.69 310.5 345.73 312.5 345.7 313.62 345.14 315.33 344.1 316.35 342.49 316.86 341.46 316.96 340.5 317.03 339.5 317.06 337.5 317.12 336.35 317.15 334.52 316.61 333.26 315.49 332.61 313.66 332.48 312.5 332.43 311.5 332.35 310.5 332.23 309.5 332.16 308.5 332.08 307.5 332.04 306.5 331.99 305.5 331.92 304.5 331.86 303.5 331.78 302.5 331.75 301.5 331.73 300.5 331.7 299.5 331.68 298.5 331.66 297.5 331.61 296.5 331.57 295.5 331.54 294.5 331.52 293.5 331.51 292.5 331.5 291.5 331.5 290.5 331.5 289.5 331.5 287.5 331.6 286.26 332.28 284.14 333.78 282.53 336.03 281.69 337.44 281.59 337.5 282.5Z"/>
<path fill="#FFEED4" stroke="#000000" stroke-width="4.17" stroke-linecap="butt" stroke-linejoin="miter" d="M182.5 62.5 183.5 62.53 184.5 62.57 185.5 62.67 186.5 62.7 187.5 62.77 188.5 62.81 189.5 62.85 190.5 62.9 191.5 62.97 192.5 63.03 193.5 63.09 194.5 63.17 195.5 63.22 196.5 63.26 197.5 63.29 198.5 63.32 199.5 63.34 200.5 63.39 201.5 63.42 202.5 63.45 203.5 63.48 204.5 63.49 205.5 63.5 206.5 63.5 207.5 63.49 208.5 63.48 209.5 63.45 210.5 63.44 211.5 63.4 212.5 63.35 213.5 63.31 214.5 63.27 215.5 63.23 217.5 63.19 218.48 63.16 219.9 63.16 220.83 63.26 221.83 63.33 222.83 63.44 224.24 63.58 225.16 63.77 226.13 64.02 228.02 64.53 228.88 65 229.77 65.46 231.21 66.27 231.99 66.93 232.78 67.55 233.91 68.59 234.55 69.47 235.09 70.31 235.98 71.69 236.41 72.72 236.79 73.65 237.48 75.48 237.68 76.59 237.85 77.57 238.01 78.56 238.23 79.96 238.3 81.05 238.39 82.47 238.43 83.5 238.46 84.5 238.48 85.5 238.49 86.5 238.5 87.5 238.5 88.5 238.5 89.5 238.5 90.5 238.48 91.5 238.48 92.5 238.45 93.5 238.43 94.5 238.41 95.5 238.4 96.5 238.38 97.5 238.36 98.5 238.3 99.5 238.22 100.5 238.19 101.5 238.12 102.5 238.07 103.5 238.03 104.5 237.94 105.5 237.91 106.5 237.88 107.5 237.85 108.5 237.8 109.5 237.73 110.5 237.69 111.5 237.6 112.5 237.55 113.5 237.5 114.5 237.46 115.5 237.36 116.5 237.31 117.5 237.25 118.5 237.18 119.5 237.08 120.5 237.04 121.5 236.99 122.5 236.93 123.5 236.88 124.5 236.8 125.5 236.77 126.5 236.7 127.5 236.68 128.5 236.65 129.5 236.61 130.5 236.58 131.5 236.57 132.5 236.54 133.5 236.53 134.5 236.52 135.5 236.51 136.5 236.5 137.5 236.5 138.5 236.51 139.5 236.52 140.5 236.53 141.5 236.55 142.5 236.57 143.5 236.61 144.5 236.64 145.5 236.66 146.5 236.73 147.5 236.8 148.5 236.9 149.5 236.95 150.5 237 151.5 237.04 152.5 237.14 153.5 237.2 154.5 237.23 155.5 237.26 156.5 237.32 157.5 237.39 158.5 237.44 159.5 237.51 160.5 237.54 161.5 237.59 162.5 237.63 163.5 237.69 164.5 237.8 165.5 237.85 166.5 237.89 167.5 237.94 168.5 238 169.5 238.03 170.5 238.06 171.5 238.1 172.5 238.13 173.5 238.19 174.5 238.23 175.5 238.26 176.5 238.31 177.5 238.34 178.5 238.36 179.5 238.4 180.5 238.42 181.5 238.43 182.5 238.45 183.5 238.47 184.5 238.48 185.5 238.49 186.5 238.49 187.5 238.5 188.5 238.5 189.5 238.5 190.5 238.48 191.5 238.46 192.5 238.41 193.5 238.39 194.5 238.35 195.5 238.31 196.5 238.29 197.5 238.27 198.5 238.2 199.5 238.15 200.5 238.08 201.5 238.05 202.5 237.97 203.5 237.93 204.5 237.86 205.5 237.75 206.5 237.68 207.5 237.58 208.5 237.52 209.5 237.4 210.5 237.33 211.5 237.21 212.5 237.16 213.5 237.13 214.5 237.04 215.5 236.98 216.5 236.9 217.5 236.83 218.5 236.78 219.5 236.71 220.5 236.66 221.5 236.64 222.5 236.61 223.5 236.59 224.5 236.57 225.5 236.54 226.5 236.52 227.5 236.51 228.5 236.51 229.5 236.5 230.5 236.5 231.5 236.51 232.5 236.52 233.5 236.56 234.5 236.59 235.5 236.63 236.5 236.69 237.5 236.71 238.5 236.76 239.5 236.79 240.5 236.85 241.5 236.88 242.5 236.93 243.5 236.96 244.5 237.04 245.5 237.11 246.5 237.22 247.5 237.3 248.5 237.42 249.5 237.49 250.5 237.6 251.5 237.64 252.5 237.75 253.5 237.84 254.5 237.89 255.5 237.92 256.5 237.98 257.5 238.02 258.5 238.05 259.5 238.12 260.5 238.16 261.5 238.21 262.5 238.26 263.5 238.31 264.5 238.35 265.5 238.38 266.5 238.39 267.5 238.43 268.5 238.45 269.5 238.47 270.5 238.49 271.5 238.5 272.5 238.5 273.5 238.5 274.5 238.49 275.5 238.47 276.5 238.44 277.5 238.42 278.5 238.37 279.5 238.32 280.5 238.27 281.5 238.22 282.5 238.15 283.5 238.1 284.5 238.05 285.5 237.98 286.5 237.92 287.5 237.87 288.5 237.79 289.5 237.74 290.5 237.67 291.5 237.64 292.5 237.57 293.5 237.47 294.5 237.41 295.5 237.31 296.5 237.28 297.5 237.23 298.5 237.11 299.5 237.08 300.5 237.02 301.5 236.99 302.5 236.9 303.5 236.86 304.5 236.77 305.5 236.71 306.5 236.65 307.5 236.63 308.5 236.61 309.5 236.58 310.5 236.55 311.5 236.54 312.5 236.52 313.5 236.5 314.5 236.5 315.5 236.5 316.5 236.52 317.5 236.53 318.5 236.55 319.5 236.58 320.5 236.6 321.5 236.66 322.5 236.73 323.5 236.75 324.5 236.79 325.5 236.84 326.5 236.88 327.5 236.94 328.5 237.04 329.5 237.08 330.5 237.13 331.5 237.19 332.5 237.24 333.5 237.3 334.5 237.36 335.5 237.43 336.5 237.55 337.5 237.6 338.5 237.71 339.5 237.82 340.5 237.93 341.5 237.96 342.5 238.06 343.5 238.14 344.5 238.18 345.5 238.22 346.5 238.24 347.5 238.3 348.5 238.32 349.5 238.35 350.5 238.4 351.5 238.42 352.5 238.44 353.5 238.46 354.5 238.47 355.5 238.49 356.5 238.5 357.5 238.5 358.5 238.49 359.5 238.48 360.5 238.46 361.5 238.43 362.5 238.42 363.5 238.39 364.5 238.37 365.5 238.35 366.5 238.3 367.5 238.26 368.5 238.22 369.5 238.19 370.5 238.15 371.5 238.07 372.5 238.03 373.5 237.96 374.5 237.92 375.5 237.81 376.5 237.73 377.5 237.7 378.5 237.64 379.5 237.57 380.5 237.51 381.5 237.47 382.5 237.36 383.5 237.3 384.5 237.25 385.5 237.15 386.5 237.11 387.5 237.08 388.5 236.98 389.5 236.94 390.5 236.89 391.5 236.85 392.5 236.79 393.5 236.74 394.5 236.68 395.5 236.66 396.5 236.61 397.5 236.57 398.5 236.55 399.5 236.52 400.5 236.51 401.5 236.51 402.5 236.5 403.5 236.5 404.5 236.5 405.5 236.51 406.5 236.51 407.5 236.53 408.5 236.55 409.5 236.56 410.5 236.59 411.5 236.62 412.5 236.66 413.5 236.69 414.5 236.76 415.5 236.8 417.5 236.8 418.48 236.82 419.9 236.77 420.84 236.69 421.84 236.59 422.83 236.42 424.24 236.21 425.16 235.94 426.12 235.35 427.98 234.89 428.82 234.44 429.72 233.64 431.15 232.96 431.87 232.33 432.66 231.27 433.77 230.4 434.34 229.59 434.92 228.2 435.8 227.2 436.18 226.27 436.54 224.45 437.26 223.39 437.51 222.41 437.72 221.43 437.95 220.04 438.23 218.95 438.32 217.53 438.42 216.5 438.45 215.5 438.46 214.5 438.49 213.5 438.5 212.5 438.5 211.5 438.49 210.5 438.48 209.5 438.46 208.5 438.43 207.5 438.42 206.5 438.39 205.5 438.32 204.5 438.28 203.5 438.23 202.5 438.15 201.5 438.1 200.5 438.07 199.5 438.01 198.5 437.92 197.5 437.89 196.5 437.78 195.5 437.67 194.5 437.64 193.5 437.55 192.5 437.49 191.5 437.38 190.5 437.27 189.5 437.23 188.5 437.19 187.5 437.15 186.5 437.11 185.5 437.03 184.5 436.96 182.5 436.93 181.52 436.87 180.1 436.77 179.19 436.59 178.2 436.42 177.22 436.25 175.82 436 175.02 435.67 174.09 435.33 172.24 434.68 171.57 434.24 170.73 433.7 169.33 432.83 168.82 432.26 168.12 431.55 167.03 430.47 166.67 429.8 166.15 428.95 165.29 427.55 165.03 426.8 164.67 425.87 164.01 424.03 163.84 423.2 163.63 422.22 163.44 421.23 163.19 419.83 163.12 418.9 163.01 417.48 162.94 416.5 162.83 415.5 162.77 414.5 162.66 413.5 162.6 412.5 162.55 411.5 162.47 410.5 162.41 409.5 162.34 408.5 162.22 407.5 162.12 406.5 162.04 405.5 162 404.5 161.97 403.5 161.93 402.5 161.88 401.5 161.85 400.5 161.77 399.5 161.7 398.5 161.68 397.5 161.62 396.5 161.59 395.5 161.57 394.5 161.55 393.5 161.53 392.5 161.52 391.5 161.51 390.5 161.5 389.5 161.5 388.5 161.51 387.5 161.52 386.5 161.53 385.5 161.54 384.5 161.58 383.5 161.6 382.5 161.63 381.5 161.66 380.5 161.67 379.5 161.72 378.5 161.77 377.5 161.84 376.5 161.9 375.5 161.92 374.5 161.96 373.5 162.05 372.5 162.13 371.5 162.2 370.5 162.24 369.5 162.28 368.5 162.35 367.5 162.45 366.5 162.49 365.5 162.54 364.5 162.66 363.5 162.72 362.5 162.75 361.5 162.79 360.5 162.84 359.5 162.88 358.5 162.93 357.5 163.02 356.5 163.06 355.5 163.1 354.5 163.16 353.5 163.24 352.5 163.27 351.5 163.31 350.5 163.35 349.5 163.37 348.5 163.39 347.5 163.43 346.5 163.46 345.5 163.48 344.5 163.49 343.5 163.5 342.5 163.5 341.5 163.5 340.5 163.49 339.5 163.48 338.5 163.47 337.5 163.45 336.5 163.42 335.5 163.38 334.5 163.32 333.5 163.28 332.5 163.22 331.5 163.13 330.5 163.08 329.5 163.04 328.5 163.01 327.5 162.98 326.5 162.92 325.5 162.83 324.5 162.76 323.5 162.72 322.5 162.64 321.5 162.57 320.5 162.51 319.5 162.4 318.5 162.28 317.5 162.24 316.5 162.2 315.5 162.14 314.5 162.11 313.5 162.07 312.5 162.02 311.5 161.92 310.5 161.87 309.5 161.82 308.5 161.79 307.5 161.74 306.5 161.69 305.5 161.66 304.5 161.64 303.5 161.58 302.5 161.57 301.5 161.54 300.5 161.51 299.5 161.51 298.5 161.5 297.5 161.51 296.5 161.51 295.5 161.52 294.5 161.55 293.5 161.59 292.5 161.62 291.5 161.66 290.5 161.72 289.5 161.75 288.5 161.78 287.5 161.84 286.5 161.86 285.5 161.95 284.5 162.03 283.5 162.08 282.5 162.12 281.5 162.21 280.5 162.24 279.5 162.33 278.5 162.42 277.5 162.54 276.5 162.58 275.5 162.63 274.5 162.73 273.5 162.83 272.5 162.91 271.5 162.94 270.5 162.99 269.5 163.03 268.5 163.11 267.5 163.14 266.5 163.19 265.5 163.23 264.5 163.3 263.5 163.33 262.5 163.39 261.5 163.4 260.5 163.45 259.5 163.47 258.5 163.48 257.5 163.49 256.5 163.49 255.5 163.5 254.5 163.5 253.5 163.5 252.5 163.49 251.5 163.47 250.5 163.46 249.5 163.44 248.5 163.42 247.5 163.4 246.5 163.38 245.5 163.33 244.5 163.29 243.5 163.23 242.5 163.2 241.5 163.16 240.5 163.08 239.5 163.02 238.5 162.97 237.5 162.9 236.5 162.86 235.5 162.8 234.5 162.71 233.5 162.59 232.5 162.52 231.5 162.49 230.5 162.42 229.5 162.38 228.5 162.31 227.5 162.27 226.5 162.22 225.5 162.12 224.5 162.06 223.5 161.98 222.5 161.94 221.5 161.91 220.5 161.88 219.5 161.83 218.5 161.8 217.5 161.73 216.5 161.7 215.5 161.67 214.5 161.65 213.5 161.62 212.5 161.58 211.5 161.57 210.5 161.54 209.5 161.53 208.5 161.52 207.5 161.51 206.5 161.5 205.5 161.5 204.5 161.5 203.5 161.51 202.5 161.53 201.5 161.54 200.5 161.55 199.5 161.56 198.5 161.61 197.5 161.63 196.5 161.66 195.5 161.72 194.5 161.74 193.5 161.79 192.5 161.83 191.5 161.92 190.5 161.97 189.5 162.02 188.5 162.07 187.5 162.14 186.5 162.17 185.5 162.23 184.5 162.29 183.5 162.35 182.5 162.39 181.5 162.49 180.5 162.6 179.5 162.64 178.5 162.74 177.5 162.77 176.5 162.86 175.5 162.91 174.5 162.98 173.5 163.08 172.5 163.13 171.5 163.22 170.5 163.28 169.5 163.32 168.5 163.37 167.5 163.39 166.5 163.43 165.5 163.44 164.5 163.47 163.5 163.48 162.5 163.48 161.5 163.49 160.5 163.5 159.5 163.5 158.5 163.5 157.5 163.5 156.5 163.49 155.5 163.49 154.5 163.47 153.5 163.46 152.5 163.43 151.5 163.4 150.5 163.38 149.5 163.32 148.5 163.29 147.5 163.25 146.5 163.18 145.5 163.13 144.5 163.06 143.5 163.02 142.5 162.96 141.5 162.93 140.5 162.9 139.5 162.84 138.5 162.8 137.5 162.76 136.5 162.71 135.5 162.64 134.5 162.58 133.5 162.45 132.5 162.41 131.5 162.36 130.5 162.25 129.5 162.21 128.5 162.17 127.5 162.08 126.5 162.02 125.5 161.95 124.5 161.9 123.5 161.85 122.5 161.8 121.5 161.76 120.5 161.71 119.5 161.66 118.5 161.62 117.5 161.6 116.5 161.57 115.5 161.54 114.5 161.53 113.5 161.52 112.5 161.51 111.5 161.5 110.5 161.5 109.5 161.5 108.5 161.5 107.5 161.52 106.5 161.53 105.5 161.54 104.5 161.56 103.5 161.59 102.5 161.61 101.5 161.67 100.5 161.7 99.5 161.76 98.5 161.81 97.5 161.85 96.5 161.9 95.5 161.99 94.5 162.1 93.5 162.15 92.5 162.18 91.5 162.24 90.5 162.27 89.5 162.34 88.5 162.38 87.5 162.45 86.5 162.51 85.5 162.55 84.5 162.58 82.5 162.65 81.5 162.75 80.08 162.94 79.12 163.17 78.14 163.36 77.16 163.61 75.76 163.94 74.89 164.34 73.97 164.99 72.13 165.53 71.43 166.09 70.6 166.97 69.21 167.61 68.7 168.34 68.01 169.47 66.97 170.16 66.6 171.03 66.11 172.45 65.28 173.21 65.07 174.16 64.76 176.02 64.15 176.83 64.05 177.82 63.91 178.81 63.76 180.22 63.54 181.11 63.49 182.53 63.43 182.5 62.5Z"/>
<path fill="#FFEED4" stroke="#000000" stroke-width="4.17" stroke-linecap="butt" stroke-linejoin="miter" d="M282.5 62.5 283.5 62.53 284.5 62.57 285.5 62.67 286.5 62.7 287.5 62.77 288.5 62.81 289.5 62.85 290.5 62.9 291.5 62.97 292.5 63.03 293.5 63.09 294.5 63.17 295.5 63.22 296.5 63.26 297.5 63.29 298.5 63.32 299.5 63.34 300.5 63.39 301.5 63.42 302.5 63.45 303.5 63.48 304.5 63.49 305.5 63.5 306.5 63.5 307.5 63.49 308.5 63.48 309.5 63.45 310.5 63.44 311.5 63.4 312.5 63.35 313.5 63.31 314.5 63.27 315.5 63.23 317.5 63.19 318.48 63.16 319.9 63.16 320.83 63.26 321.83 63.33 322.83 63.44 324.24 63.58 325.16 63.77 326.13 64.02 328.02 64.53 328.88 65 329.77 65.46 331.21 66.27 331.99 66.93 332.78 67.55 333.91 68.59 334.55 69.47 335.09 70.31 335.98 71.69 336.41 72.72 336.79 73.65 337.48 75.48 337.68 76.59 337.85 77.57 338.01 78.56 338.23 79.96 338.3 81.05 338.39 82.47 338.43 83.5 338.46 84.5 338.48 85.5 338.49 86.5 338.5 87.5 338.5 88.5 338.5 89.5 338.5 90.5 338.48 91.5 338.48 92.5 338.45 93.5 338.43 94.5 338.41 95.5 338.4 96.5 338.38 97.5 338.36 98.5 338.3 99.5 338.22 100.5 338.19 101.5 338.12 102.5 338.07 103.5 338.03 104.5 337.94 105.5 337.91 106.5 337.88 107.5 337.85 108.5 337.8 109.5 337.73 110.5 337.69 111.5 337.6 112.5 337.55 113.5 337.5 114.5 337.46 115.5 337.36 116.5 337.31 117.5 337.25 118.5 337.18 119.5 337.08 120.5 337.04 121.5 336.99 122.5 336.93 123.5 336.88 124.5 336.8 125.5 336.77 126.5 336.7 127.5 336.68 128.5 336.65 129.5 336.61 130.5 336.58 131.5 336.57 132.5 336.54 133.5 336.53 134.5 336.52 135.5 336.51 136.5 336.5 137.5 336.5 138.5 336.51 139.5 336.52 140.5 336.53 141.5 336.55 142.5 336.57 143.5 336.61 144.5 336.64 145.5 336.66 146.5 336.73 147.5 336.8 148.5 336.9 149.5 336.95 150.5 337 151.5 337.04 152.5 337.14 153.5 337.2 154.5 337.23 155.5 337.26 156.5 337.32 157.5 337.39 158.5 337.44 159.5 337.51 160.5 337.54 161.5 337.59 162.5 337.63 163.5 337.69 164.5 337.8 165.5 337.85 166.5 337.89 167.5 337.94 168.5 338 169.5 338.03 170.5 338.06 171.5 338.1 172.5 338.13 173.5 338.19 174.5 338.23 175.5 338.26 176.5 338.31 177.5 338.34 178.5 338.36 179.5 338.4 180.5 338.42 181.5 338.43 182.5 338.45 183.5 338.47 184.5 338.48 185.5 338.49 186.5 338.49 187.5 338.5 188.5 338.5 189.5 338.5 190.5 338.48 191.5 338.46 192.5 338.41 193.5 338.39 194.5 338.35 195.5 338.31 196.5 338.29 197.5 338.27 198.5 338.2 199.5 338.15 200.5 338.08 201.5 338.05 202.5 337.97 203.5 337.93 204.5 337.86 205.5 337.75 206.5 337.68 207.5 337.58 208.5 337.52 209.5 337.4 210.5 337.33 211.5 337.21 212.5 337.16 213.5 337.13 214.5 337.04 215.5 336.98 216.5 336.9 217.5 336.83 218.5 336.78 219.5 336.71 220.5 336.66 221.5 336.64 222.5 336.61 223.5 336.59 224.5 336.57 225.5 336.54 226.5 336.52 227.5 336.51 228.5 336.51 229.5 336.5 230.5 336.5 231.5 336.51 232.5 336.52 233.5 336.56 234.5 336.59 235.5 336.63 236.5 336.69 237.5 336.71 238.5 336.76 239.5 336.79 240.5 336.85 241.5 336.88 242.5 336.93 243.5 336.96 244.5 337.04 245.5 337.11 246.5 337.22 247.5 337.3 248.5 337.42 249.5 337.49 250.5 337.6 251.5 337.64 252.5 337.75 253.5 337.84 254.5 337.89 255.5 337.92 256.5 337.98 257.5 338.02 258.5 338.05 259.5 338.12 260.5 338.16 261.5 338.21 262.5 338.26 263.5 338.31 264.5 338.35 265.5 338.38 266.5 338.39 267.5 338.43 268.5 338.45 269.5 338.47 270.5 338.49 271.5 338.5 272.5 338.5 273.5 338.5 274.5 338.49 275.5 338.47 276.5 338.44 277.5 338.42 278.5 338.37 279.5 338.32 280.5 338.27 281.5 338.22 282.5 338.15 283.5 338.1 284.5 338.05 285.5 337.98 286.5 337.92 287.5 337.87 288.5 337.79 289.5 337.74 290.5 337.67 291.5 337.64 292.5 337.57 293.5 337.47 294.5 337.41 295.5 337.31 296.5 337.28 297.5 337.23 298.5 337.11 299.5 337.08 300.5 337.02 301.5 336.99 302.5 336.9 303.5 336.86 304.5 336.77 305.5 336.71 306.5 336.65 307.5 336.63 308.5 336.61 309.5 336.58 310.5 336.55 311.5 336.54 312.5 336.52 313.5 336.5 314.5 336.5 315.5 336.5 317.5 336.49 318.47 336.45 319.89 336.34 320.78 336.23 321.77 336.11 322.76 335.96 324.18 335.75 325 335.46 325.96 334.87 327.82 334.46 328.56 333.99 329.45 333.2 330.89 332.64 331.55 331.96 332.29 330.91 333.41 330.16 333.92 329.32 334.48 327.94 335.38 327.05 335.73 326.13 336.11 324.31 336.84 323.32 337.04 322.35 337.29 321.37 337.54 319.98 337.84 318.94 337.91 317.52 338.06 316.5 338.14 315.5 338.18 314.5 338.22 313.5 338.24 312.5 338.3 311.5 338.32 310.5 338.35 309.5 338.4 308.5 338.42 307.5 338.44 306.5 338.46 305.5 338.47 304.5 338.49 303.5 338.5 302.5 338.5 301.5 338.49 300.5 338.48 299.5 338.46 298.5 338.43 297.5 338.42 296.5 338.39 295.5 338.37 294.5 338.35 293.5 338.3 292.5 338.26 291.5 338.22 290.5 338.19 289.5 338.15 288.5 338.07 287.5 338.03 286.5 337.96 285.5 337.92 284.5 337.81 282.5 337.73 281.49 337.66 280.07 337.56 279.08 337.35 278.1 337.15 277.11 336.97 275.72 336.66 274.82 336.29 273.89 335.92 272.06 335.21 271.3 334.7 270.46 334.15 269.09 333.23 268.52 332.57 267.85 331.82 266.78 330.72 266.42 329.95 265.95 329.06 265.16 327.63 264.94 326.83 264.66 325.87 264.09 324 264 323.17 263.89 322.18 263.76 321.19 263.56 319.78 263.54 318.89 263.5 317.47 263.5 316.5 263.49 315.5 263.49 314.5 263.47 313.5 263.45 312.5 263.44 311.5 263.41 310.5 263.38 309.5 263.34 308.5 263.31 307.5 263.24 306.5 263.2 305.5 263.17 304.5 263.1 303.5 263.01 302.5 262.95 301.5 262.92 300.5 262.88 299.5 262.78 298.5 262.74 297.5 262.7 296.5 262.66 295.5 262.59 294.5 262.54 293.5 262.51 292.5 262.4 291.5 262.36 290.5 262.33 289.5 262.25 288.5 262.21 287.5 262.17 286.5 262.12 285.5 262.01 284.5 261.92 283.5 261.85 282.5 261.76 281.5 261.69 280.5 261.64 279.5 261.58 278.5 261.55 277.5 261.54 276.5 261.51 275.5 261.5 274.5 261.5 273.5 261.51 272.5 261.52 271.5 261.54 270.5 261.57 269.5 261.58 268.5 261.61 267.5 261.68 266.5 261.72 265.5 261.77 264.5 261.85 263.5 261.9 262.5 261.93 261.5 261.99 260.5 262.08 259.5 262.11 258.5 262.22 257.5 262.33 256.5 262.36 255.5 262.45 254.5 262.51 253.5 262.62 252.5 262.73 251.5 262.77 250.5 262.81 249.5 262.85 248.5 262.89 247.5 262.97 246.5 263.04 245.5 263.07 244.5 263.1 243.5 263.16 242.5 263.2 241.5 263.23 240.5 263.26 239.5 263.3 238.5 263.35 237.5 263.38 236.5 263.41 235.5 263.43 234.5 263.46 233.5 263.48 232.5 263.49 231.5 263.5 230.5 263.5 229.5 263.5 228.5 263.49 227.5 263.47 226.5 263.44 225.5 263.39 224.5 263.35 223.5 263.29 222.5 263.22 221.5 263.17 220.5 263.12 219.5 263.08 218.5 263.01 217.5 262.94 216.5 262.83 215.5 262.77 214.5 262.66 213.5 262.6 212.5 262.55 211.5 262.47 210.5 262.41 209.5 262.34 208.5 262.22 207.5 262.12 206.5 262.04 205.5 262 204.5 261.97 203.5 261.93 202.5 261.88 201.5 261.85 200.5 261.77 199.5 261.7 198.5 261.68 197.5 261.62 196.5 261.59 195.5 261.57 194.5 261.55 193.5 261.53 192.5 261.52 191.5 261.51 190.5 261.5 189.5 261.5 188.5 261.51 187.5 261.52 186.5 261.53 185.5 261.54 184.5 261.58 183.5 261.6 182.5 261.63 181.5 261.66 180.5 261.67 179.5 261.72 178.5 261.77 177.5 261.84 176.5 261.9 175.5 261.92 174.5 261.96 173.5 262.05 172.5 262.13 171.5 262.2 170.5 262.24 169.5 262.28 168.5 262.35 167.5 262.45 166.5 262.49 165.5 262.54 164.5 262.66 163.5 262.72 162.5 262.75 161.5 262.79 160.5 262.84 159.5 262.88 158.5 262.93 157.5 263.02 156.5 263.06 155.5 263.1 154.5 263.16 153.5 263.24 152.5 263.27 151.5 263.31 150.5 263.35 149.5 263.37 148.5 263.39 147.5 263.43 146.5 263.46 145.5 263.48 144.5 263.49 143.5 263.5 142.5 263.5 141.5 263.5 140.5 263.49 139.5 263.48 138.5 263.47 137.5 263.45 136.5 263.42 135.5 263.38 134.5 263.32 133.5 263.28 132.5 263.22 131.5 263.13 130.5 263.08 129.5 263.04 128.5 263.01 127.5 262.98 126.5 262.92 125.5 262.83 124.5 262.76 123.5 262.72 122.5 262.64 121.5 262.57 120.5 262.51 119.5 262.4 118.5 262.28 117.5 262.24 116.5 262.2 115.5 262.14 114.5 262.11 113.5 262.07 112.5 262.02 111.5 261.92 110.5 261.87 109.5 261.82 108.5 261.79 107.5 261.74 106.5 261.69 105.5 261.66 104.5 261.64 103.5 261.58 102.5 261.57 101.5 261.54 100.5 261.51 99.5 261.51 98.5 261.5 97.5 261.51 96.5 261.51 95.5 261.52 94.5 261.55 93.5 261.59 92.5 261.62 91.5 261.66 90.5 261.72 89.5 261.75 88.5 261.78 87.5 261.84 86.5 261.86 85.5 261.95 84.5 262.03 82.5 262.12 81.49 262.2 80.07 262.43 79.05 262.6 78.06 262.84 77.08 263.12 75.69 263.56 74.77 263.91 73.83 264.57 71.99 265.17 71.22 265.77 70.41 266.68 69.04 267.35 68.43 268.09 67.76 269.2 66.7 270 66.33 270.87 65.85 272.31 65.05 273.13 64.83 274.1 64.58 275.97 63.99 276.82 63.94 277.81 63.82 278.81 63.72 280.22 63.54 281.11 63.53 282.53 63.49 282.5 62.5Z"/>
<path fill="none" stroke="#000000" stroke-width="2.08" stroke-linecap="square" stroke-linejoin="round" d="M400 100 399.97 101 399.93 102 399.83 103 399.8 104 399.73 105 399.69 106 399.65 107 399.6 108 399.53 109 399.47 110 399.41 111 399.33 112 399.28 113 399.24 114 399.21 115 399.18 116 399.16 117 399.11 118 399.08 119 399.05 120 399.02 121 399.01 122 399 123 399 124 399.01 125 399.02 126 399.05 127 399.06 128 399.1 129 399.15 130 399.19 131 399.23 132 399.27 133 399.31 134 399.37 135 399.41 136 399.46 137 399.53 138 399.56 139 399.62 140 399.73 141 399.8 142 399.92 143 399.96 144 400.02 145 400.07 146 400.15 147 400.27 148 400.34 149 400.42 150 400.46 151 400.51 152 400.58 153 400.64 154 400.72 155 400.75 156 400.77 157 400.8 158 400.82 159 400.84 160 400.89 161 400.93 162 400.96 163 400.98 164 400.99 165 401 166 401 167 401 168 401 169 400.98 170 400.98 171 400.95 172 400.93 173 400.91 174 400.9 175 400.88 176 400.86 177 400.8 178 400.72 179 400.69 180 400.62 181 400.57 182 400.53 183 400.44 184 400.41 185 400.38 186 400.35 187 400.3 188 400.23 189 400.19 190 400.1 191 400.05 192 400 193 399.96 194 399.86 195 399.81 196 399.75 197 399.68 198 399.58 199 399.54 200 399.49 201 399.43 202 399.38 203 399.3 204 399.27 205 399.2 206 399.18 207 399.15 208 399.11 209 399.08 210 399.07 211 399.04 212 399.03 213 399.02 214 399.01 215 399 216 399 217 399.01 218 399.02 219 399.03 220 399.05 221 399.07 222 399.11 223 399.14 224 399.16 225 399.23 226 399.3 227 399.4 228 399.45 229 399.5 230 399.54 231 399.64 232 399.7 233 399.73 234 399.76 235 399.82 236 399.89 237 399.94 238 400.01 239 400.04 240 400.09 241 400.13 242 400.19 243 400.3 244 400.35 245 400.39 246 400.44 247 400.5 248 400.53 249 400.56 250 400.6 251 400.63 252 400.69 253 400.73 254 400.76 255 400.81 256 400.84 257 400.86 258 400.9 259 400.92 260 400.93 261 400.95 262 400.97 263 400.98 264 400.99 265 400.99 266 401 267 401 268 401 269 400.98 270 400.96 271 400.91 272 400.89 273 400.85 274 400.81 275 400.79 276 400.77 277 400.7 278 400.65 279 400.58 280 400.55 281 400.47 282 400.43 283 400.36 284 400.25 285 400.18 286 400.08 287 400.02 288 399.9 289 399.83 290 399.71 291 399.66 292 399.63 293 399.54 294 399.48 295 399.4 296 399.33 297 399.28 298 399.21 300"/>
<path fill="none" stroke="#000000" stroke-width="2.08" stroke-linecap="square" stroke-linejoin="round" d="M500 100 499.97 101 499.93 102 499.83 103 499.8 104 499.73 105 499.69 106 499.65 107 499.6 108 499.53 109 499.47 110 499.41 111 499.33 112 499.28 113 499.24 114 499.21 115 499.18 116 499.16 117 499.11 118 499.08 119 499.05 120 499.02 121 499.01 122 499 123 499 124 499.01 125 499.02 126 499.05 127 499.06 128 499.1 129 499.15 130 499.19 131 499.23 132 499.27 133 499.31 134 499.37 135 499.41 136 499.46 137 499.53 138 499.56 139 499.62 140 499.73 141 499.8 142 499.92 143 499.96 144 500.02 145 500.07 146 500.15 147 500.27 148 500.34 149 500.42 150 500.46 151 500.51 152 500.58 153 500.64 154 500.72 155 500.75 156 500.77 157 500.8 158 500.82 159 500.84 160 500.89 161 500.93 162 500.96 163 500.98 164 500.99 165 501 166 501 167 501 168 501 169 500.98 170 500.98 171 500.95 172 500.93 173 500.91 174 500.9 175 500.88 176 500.86 177 500.8 178 500.72 179 500.69 180 500.62 181 500.57 182 500.53 183 500.44 184 500.41 185 500.38 186 500.35 187 500.3 188 500.23 189 500.19 190 500.1 191 500.05 192 500 193 499.96 194 499.86 195 499.81 196 499.75 197 499.68 198 499.58 199 499.54 200 499.49 201 499.43 202 499.38 203 499.3 204 499.27 205 499.2 206 499.18 207 499.15 208 499.11 209 499.08 210 499.07 211 499.04 212 499.03 213 499.02 214 499.01 215 499 216 499 217 499.01 218 499.02 219 499.03 220 499.05 221 499.07 222 499.11 223 499.14 224 499.16 225 499.23 226 499.3 227 499.4 228 499.45 229 499.5 230 499.54 231 499.64 232 499.7 233 499.73 234 499.76 235 499.82 236 499.89 237 499.94 238 500.01 239 500.04 240 500.09 241 500.13 242 500.19 243 500.3 244 500.35 245 500.39 246 500.44 247 500.5 248 500.53 249 500.56 250 500.6 251 500.63 252 500.69 253 500.73 254 500.76 255 500.81 256 500.84 257 500.86 258 500.9 259 500.92 260 500.93 261 500.95 262 500.97 263 500.98 264 500.99 265 500.99 266 501 267 501 268 501 269 500.98 270 500.96 271 500.91 272 500.89 273 500.85 274 500.81 275 500.79 276 500.77 277 500.7 278 500.65 279 500.58 280 500.55 281 500.47 282 500.43 283 500.36 284 500.25 285 500.18 286 500.08 287 500.02 288 499.9 289 499.83 290 499.71 291 499.66 292 499.63 293 499.54 294 499.48 295 499.4 296 499.33 297 499.28 298 499.21 299 499.16 300 499.14 301 499.11 302 499.09 303 499.07 304 499.04 305 499.02 306 499.01 307 499.01 308 499 309 499 310 499.01 311 499.02 312 499.06 313 499.09 314 499.13 315 499.19 316 499.21 317 499.26 318 499.29 319 499.35 320 499.38 321 499.43 322 499.46 323 499.54 324 499.61 325 499.72 326 499.8 327 499.92 328 499.99 329 500.1 330 500.14 331 500.25 332 500.34 333 500.39 334 500.42 335 500.48 336 500.52 337 500.55 338 500.62 339 500.66 340 500.71 341 500.76 342 500.81 343 500.85 344 500.88 345 500.89 346 500.93 347 500.95 348 500.97 349 500.99 350 501 351 501 352 501 353 500.99 354 500.97 355 500.94 356 500.92 357 500.87 358 500.82 359 500.77 360 500.72 361 500.65 362 500.6 363 500.55 364 500.48 365 500.42 366 500.37 367 500.29 368 500.24 369 500.17 370 500.14 371 500.07 372 499.97 373 499.91 374 499.81 375 499.78 376 499.73 377 499.61 378 499.58 379 499.52 380 499.49 381 499.4 382 499.36 383 499.27 384 499.21 385 499.15 386 499.13 387 499.11 388 499.08 389 499.05 390 499.04 391 499.02 392 499 393 499 394 499 395 499.02 396 499.03 397 499.05 398 499.08 399 499.1 400"/>
<path fill="none" stroke="#000000" stroke-width="2.08" stroke-linecap="square" stroke-linejoin="round" d="M480 280 480.68 280.73 481.37 281.46 482 282.24 482.69 282.97 483.34 283.73 484.02 284.46 484.7 285.19 485.37 285.94 486.03 286.7 486.7 287.44 487.36 288.19 488.01 288.96 488.68 289.7 489.36 290.44 490.05 291.17 490.73 291.89 491.43 292.61 492.1 293.36 492.78 294.09 493.47 294.82 494.16 295.54 494.86 296.26 495.56 296.97 496.26 297.68 496.98 298.38 497.69 299.08 498.42 299.76 499.14 300.46 499.87 301.15 500.62 301.81 501.35 302.49 502.08 303.17 502.82 303.85 503.55 304.53 504.31 305.19 505.04 305.87 505.78 306.55 506.53 307.21 507.27 307.89 508.02 308.55 508.8 309.18 509.56 309.84 510.35 310.47 511.09 311.14 511.84 311.8 512.58 312.48 513.34 313.13 514.13 313.75 514.89 314.41 515.66 315.06 516.39 315.74 517.13 316.41 517.88 317.07 518.64 317.73 519.4 318.38 520.53 319.47"/>
<path fill="none" stroke="#000000" stroke-width="2.08" stroke-linecap="square" stroke-linejoin="round" d="M480 320 480.73 319.32 481.46 318.63 482.24 318 482.97 317.31 483.73 316.66 484.46 315.98 485.19 315.3 485.94 314.63 486.7 313.97 487.44 313.3 488.19 312.64 488.96 311.99 489.7 311.32 490.44 310.64 491.17 309.95 491.89 309.27 492.61 308.57 493.36 307.9 494.09 307.22 494.82 306.53 495.54 305.84 496.26 305.14 496.97 304.44 497.68 303.74 498.38 303.02 499.08 302.31 499.76 301.58 500.46 300.86 501.15 300.13 501.81 299.38 502.49 298.65 503.17 297.92 503.85 297.18 504.53 296.45 505.19 295.69 505.87 294.96 506.55 294.22 507.21 293.47 507.89 292.73 508.55 291.98 509.18 291.2 509.84 290.44 510.47 289.65 511.14 288.91 511.8 288.16 512.48 287.42 513.13 286.66 513.75 285.87 514.41 285.11 515.06 284.34 515.74 283.61 516.41 282.87 517.07 282.12 517.73 281.36 518.38 280.6 519.47 279.47"/>
<path fill="none" stroke="#000000" stroke-width="2.08" stroke-linecap="square" stroke-linejoin="round" d="M480 380 480.68 380.73 481.37 381.46 482 382.24 482.69 382.97 483.34 383.73 484.02 384.46 484.7 385.19 485.37 385.94 486.03 386.7 486.7 387.44 487.36 388.19 488.01 388.96 488.68 389.7 489.36 390.44 490.05 391.17 490.73 391.89 491.43 392.61 492.1 393.36 492.78 394.09 493.47 394.82 494.16 395.54 494.86 396.26 495.56 396.97 496.26 397.68 496.98 398.38 497.69 399.08 498.42 399.76 499.14 400.46 499.87 401.15 500.62 401.81 501.35 402.49 502.08 403.17 502.82 403.85 503.55 404.53 504.31 405.19 505.04 405.87 505.78 406.55 506.53 407.21 507.27 407.89 508.02 408.55 508.8 409.18 509.56 409.84 510.35 410.47 511.09 411.14 511.84 411.8 512.58 412.48 513.34 413.13 514.13 413.75 514.89 414.41 515.66 415.06 516.39 415.74 517.13 416.41 517.88 417.07 518.64 417.73 519.4 418.38 520.53 419.47"/>
<path fill="none" stroke="#000000" stroke-width="2.08" stroke-linecap="square" stroke-linejoin="round" d="M480 420 480.73 419.32 481.46 418.63 482.24 418 482.97 417.31 483.73 416.66 484.46 415.98 485.19 415.3 485.94 414.63 486.7 413.97 487.44 413.3 488.19 412.64 488.96 411.99 489.7 411.32 490.44 410.64 491.17 409.95 491.89 409.27 492.61 408.57 493.36 407.9 494.09 407.22 494.82 406.53 495.54 405.84 496.26 405.14 496.97 404.44 497.68 403.74 498.38 403.02 499.08 402.31 499.76 401.58 500.46 400.86 501.15 400.13 501.81 399.38 502.49 398.65 503.17 397.92 503.85 397.18 504.53 396.45 505.19 395.69 505.87 394.96 506.55 394.22 507.21 393.47 507.89 392.73 508.55 391.98 509.18 391.2 509.84 390.44 510.47 389.65 511.14 388.91 511.8 388.16 512.48 387.42 513.13 386.66 513.75 385.87 514.41 385.11 515.06 384.34 515.74 383.61 516.41 382.87 517.07 382.12 517.73 381.36 518.38 380.6 519.47 379.47"/>
<path fill="#FFEED4" stroke="#000000" stroke-width="4.17" stroke-linecap="butt" stroke-linejoin="miter" d="M582.5 62.5 583.5 62.53 584.5 62.57 585.5 62.67 586.5 62.7 587.5 62.77 588.5 62.81 589.5 62.85 590.5 62.9 591.5 62.97 592.5 63.03 593.5 63.09 594.5 63.17 595.5 63.22 596.5 63.26 597.5 63.29 598.5 63.32 599.5 63.34 600.5 63.39 601.5 63.42 602.5 63.45 603.5 63.48 604.5 63.49 605.5 63.5 606.5 63.5 607.5 63.49 608.5 63.48 609.5 63.45 610.5 63.44 611.5 63.4 612.5 63.35 613.5 63.31 614.5 63.27 615.5 63.23 617.5 63.19 618.48 63.16 619.9 63.16 620.83 63.26 621.83 63.33 622.83 63.44 624.24 63.58 625.16 63.77 626.13 64.02 628.02 64.53 628.88 65 629.77 65.46 631.21 66.27 631.99 66.93 632.78 67.55 633.91 68.59 634.55 69.47 635.09 70.31 635.98 71.69 636.41 72.72 636.79 73.65 637.48 75.48 637.68 76.59 637.85 77.57 638.01 78.56 638.23 79.96 638.3 81.05 638.39 82.47 638.43 83.5 638.46 84.5 638.48 85.5 638.49 86.5 638.5 87.5 638.5 88.5 638.5 89.5 638.5 90.5 638.48 91.5 638.48 92.5 638.45 93.5 638.43 94.5 638.41 95.5 638.4 96.5 638.38 97.5 638.36 98.5 638.3 99.5 638.22 100.5 638.19 101.5 638.12 102.5 638.07 103.5 638.03 104.5 637.94 105.5 637.91 106.5 637.88 107.5 637.85 108.5 637.8 109.5 637.73 110.5 637.69 111.5 637.6 112.5 637.55 113.5 637.5 114.5 637.46 115.5 637.36 117.5 637.28 118.49 637.17 119.91 636.97 120.87 636.72 121.84 636.54 122.83 636.3 124.23 635.94 125.06 635.57 126 634.88 127.83 634.41 128.53 633.83 129.35 632.97 130.75 632.36 131.28 631.63 131.95 630.52 133.02 629.84 133.39 628.96 133.88 627.55 134.72 626.79 134.93 625.84 135.24 623.98 135.85 623.17 135.95 622.18 136.1 621.19 136.25 619.78 136.46 618.89 136.51 617.47 136.58 616.5 136.61 615.5 136.64 614.5 136.66 613.5 136.73 612.5 136.8 611.5 136.9 610.5 136.95 609.5 137 608.5 137.04 607.5 137.14 606.5 137.2 605.5 137.23 604.5 137.26 603.5 137.32 602.5 137.39 601.5 137.44 600.5 137.51 599.5 137.54 598.5 137.59 597.5 137.63 596.5 137.69 595.5 137.8 594.5 137.85 593.5 137.89 592.5 137.94 591.5 138 590.5 138.03 589.5 138.06 588.5 138.1 587.5 138.13 586.5 138.19 585.5 138.23 584.5 138.26 582.5 138.31 581.47 138.31 580.05 138.28 578.96 138.17 577.97 138.05 576.98 137.92 575.57 137.74 574.45 137.4 573.5 137.1 571.64 136.48 570.58 135.89 569.72 135.37 568.31 134.53 567.42 133.67 566.72 132.95 565.65 131.85 565.03 130.78 564.53 129.92 563.72 128.48 563.37 127.35 563.07 126.4 562.47 124.54 562.37 123.41 562.27 122.41 562.21 121.41 562.04 120 562.08 118.94 562.07 117.51 562.14 116.5 562.25 115.5 562.32 114.5 562.42 113.5 562.48 112.5 562.6 111.5 562.67 110.5 562.79 109.5 562.84 108.5 562.87 107.5 562.96 106.5 563.02 105.5 563.1 104.5 563.17 103.5 563.22 102.5 563.29 101.5 563.34 100.5 563.36 99.5 563.39 98.5 563.41 97.5 563.43 96.5 563.46 95.5 563.48 94.5 563.49 93.5 563.49 92.5 563.5 91.5 563.5 90.5 563.49 89.5 563.48 88.5 563.44 87.5 563.41 86.5 563.37 85.5 563.31 84.5 563.29 82.5 563.27 81.52 563.29 80.1 563.37 79.18 563.48 78.19 563.57 77.19 563.74 75.78 563.96 74.9 564.21 73.93 564.71 72.04 565.14 71.2 565.56 70.28 566.33 68.83 566.96 68.05 567.64 67.31 568.65 66.15 569.51 65.52 570.34 64.96 571.73 64.09 572.75 63.68 573.69 63.33 575.53 62.68 576.61 62.45 577.59 62.27 578.57 62.08 579.97 61.83 581.05 61.74 582.47 61.65 582.5 62.5Z"/>
<path fill="none" stroke="#000000" stroke-width="2.08" stroke-linecap="square" stroke-linejoin="round" d="M700 100 699.97 101 699.93 102 699.83 103 699.8 104 699.73 105 699.69 106 699.65 107 699.6 108 699.53 109 699.47 110 699.41 111 699.33 112 699.28 113 699.24 114 699.21 115 699.18 116 699.16 117 699.11 118 699.08 119 699.05 120 699.02 121 699.01 122 699 123 699 124 699.01 125 699.02 126 699.05 127 699.06 128 699.1 129 699.15 130 699.19 131 699.23 132 699.27 133 699.31 134 699.37 135 699.41 136 699.46 137 699.53 138 699.56 139 699.62 140 699.73 141 699.8 142 699.92 143 699.96 144 700.02 145 700.07 146 700.15 147 700.27 148 700.34 149 700.42 150 700.46 151 700.51 152 700.58 153 700.64 154 700.72 155 700.75 156 700.77 157 700.8 158 700.82 159 700.84 160 700.89 161 700.93 162 700.96 163 700.98 164 700.99 165 701 166 701 167 701 168 701 169 700.98 170 700.98 171 700.95 172 700.93 173 700.91 174 700.9 175 700.88 176 700.86 177 700.8 178 700.72 179 700.69 180 700.62 181 700.57 182 700.53 183 700.44 184 700.41 185 700.38 186 700.35 187 700.3 188 700.23 189 700.19 190 700.1 191 700.05 192 700 193 699.96 194 699.86 195 699.81 196 699.75 197 699.68 198 699.58 199 699.54 200 699.49 201 699.43 202 699.38 203 699.3 204 699.27 205 699.2 206 699.18 207 699.15 208 699.11 209 699.08 210 699.07 211 699.04 212 699.03 213 699.02 214 699.01 215 699 216 699 217 699.01 218 699.02 219 699.03 220 699.05 221 699.07 222 699.11 223 699.14 224 699.16 225 699.23 226 699.3 227 699.4 228 699.45 229 699.5 230 699.54 231 699.64 232 699.7 233 699.73 234 699.76 235 699.82 236 699.89 237 699.94 238 700.01 239 700.04 240 700.09 241 700.13 242 700.19 243 700.3 244 700.35 245 700.39 246 700.44 247 700.5 248 700.53 249 700.56 250 700.6 251 700.63 252 700.69 253 700.73 254 700.76 255 700.81 256 700.84 257 700.86 258 700.9 259 700.92 260 700.93 261 700.95 262 700.97 263 700.98 264 700.99 265 700.99 266 701 267 701 268 701 269 700.98 270 700.96 271 700.91 272 700.89 273 700.85 274 700.81 275 700.79 276 700.77 277 700.7 278 700.65 279 700.58 280 700.55 281 700.47 282 700.43 283 700.36 284 700.25 285 700.18 286 700.08 287 700.02 288 699.9 289 699.83 290 699.71 291 699.66 292 699.63 293 699.54 294 699.48 295 699.4 296 699.33 297 699.28 298 699.21 299 699.16 300 699.14 301 699.11 302 699.09 303 699.07 304 699.04 305 699.02 306 699.01 307 699.01 308 699 309 699 310 699.01 311 699.02 312 699.06 313 699.09 314 699.13 315 699.19 316 699.21 317 699.26 318 699.29 319 699.35 320 699.38 321 699.43 322 699.46 323 699.54 324 699.61 325 699.72 326 699.8 327 699.92 328 699.99 329 700.1 330 700.14 331 700.25 332 700.34 333 700.39 334 700.42 335 700.48 336 700.52 337 700.55 338 700.62 339 700.66 340 700.71 341 700.76 342 700.81 343 700.85 344 700.88 345 700.89 346 700.93 347 700.95 348 700.97 349 700.99 350 701 351 701 352 701 353 700.99 354 700.97 355 700.94 356 700.92 357 700.87 358 700.82 359 700.77 360 700.72 361 700.65 362 700.6 363 700.55 364 700.48 365 700.42 366 700.37 367 700.29 368 700.24 369 700.17 370 700.14 371 700.07 372 699.97 373 699.91 374 699.81 375 699.78 376 699.73 377 699.61 378 699.58 379 699.52 380 699.49 381 699.4 382 699.36 383 699.27 384 699.21 385 699.15 386 699.13 387 699.11 388 699.08 389 699.05 390 699.04 391 699.02 392 699 393 699 394 699 395 699.02 396 699.03 397 699.05 398 699.08 399 699.1 400"/>
<path fill="#FFEED4" stroke="#000000" stroke-width="4.17" stroke-linecap="butt" stroke-linejoin="miter" d="M682.5 62.5 683.5 62.53 684.5 62.57 685.5 62.67 686.5 62.7 687.5 62.77 688.5 62.81 689.5 62.85 690.5 62.9 691.5 62.97 692.5 63.03 693.5 63.09 694.5 63.17 695.5 63.22 696.5 63.26 697.5 63.29 698.5 63.32 699.5 63.34 700.5 63.39 701.5 63.42 702.5 63.45 703.5 63.48 704.5 63.49 705.5 63.5 706.5 63.5 707.5 63.49 708.5 63.48 709.5 63.45 710.5 63.44 711.5 63.4 712.5 63.35 713.5 63.31 714.5 63.27 715.5 63.23 717.5 63.19 718.48 63.16 719.9 63.16 720.83 63.26 721.83 63.33 722.83 63.44 724.24 63.58 725.16 63.77 726.13 64.02 728.02 64.53 728.88 65 729.77 65.46 731.21 66.27 731.99 66.93 732.78 67.55 733.91 68.59 734.55 69.47 735.09 70.31 735.98 71.69 736.41 72.72 736.79 73.65 737.48 75.48 737.68 76.59 737.85 77.57 738.01 78.56 738.23 79.96 738.3 81.05 738.39 82.47 738.43 83.5 738.46 84.5 738.48 85.5 738.49 86.5 738.5 87.5 738.5 88.5 738.5 89.5 738.5 90.5 738.48 91.5 738.48 92.5 738.45 93.5 738.43 94.5 738.41 95.5 738.4 96.5 738.38 97.5 738.36 98.5 738.3 99.5 738.22 100.5 738.19 101.5 738.12 102.5 738.07 103.5 738.03 104.5 737.94 105.5 737.91 106.5 737.88 107.5 737.85 108.5 737.8 109.5 737.73 110.5 737.69 111.5 737.6 112.5 737.55 113.5 737.5 114.5 737.46 115.5 737.36 117.5 737.28 118.49 737.17 119.91 736.97 120.87 736.72 121.84 736.54 122.83 736.3 124.23 735.94 125.06 735.57 126 734.88 127.83 734.41 128.53 733.83 129.35 732.97 130.75 732.36 131.28 731.63 131.95 730.52 133.02 729.84 133.39 728.96 133.88 727.55 134.72 726.79 134.93 725.84 135.24 723.98 135.85 723.17 135.95 722.18 136.1 721.19 136.25 719.78 136.46 718.89 136.51 717.47 136.58 716.5 136.61 715.5 136.64 714.5 136.66 713.5 136.73 712.5 136.8 711.5 136.9 710.5 136.95 709.5 137 708.5 137.04 707.5 137.14 706.5 137.2 705.5 137.23 704.5 137.26 703.5 137.32 702.5 137.39 701.5 137.44 700.5 137.51 699.5 137.54 698.5 137.59 697.5 137.63 696.5 137.69 695.5 137.8 694.5 137.85 693.5 137.89 692.5 137.94 691.5 138 690.5 138.03 689.5 138.06 688.5 138.1 687.5 138.13 686.5 138.19 685.5 138.23 684.5 138.26 682.5 138.31 681.47 138.31 680.05 138.28 678.96 138.17 677.97 138.05 676.98 137.92 675.57 137.74 674.45 137.4 673.5 137.1 671.64 136.48 670.58 135.89 669.72 135.37 668.31 134.53 667.42 133.67 666.72 132.95 665.65 131.85 665.03 130.78 664.53 129.92 663.72 128.48 663.37 127.35 663.07 126.4 662.47 124.54 662.37 123.41 662.27 122.41 662.21 121.41 662.04 120 662.08 118.94 662.07 117.51 662.14 116.5 662.25 115.5 662.32 114.5 662.42 113.5 662.48 112.5 662.6 111.5 662.67 110.5 662.79 109.5 662.84 108.5 662.87 107.5 662.96 106.5 663.02 105.5 663.1 104.5 663.17 103.5 663.22 102.5 663.29 101.5 663.34 100.5 663.36 99.5 663.39 98.5 663.41 97.5 663.43 96.5 663.46 95.5 663.48 94.5 663.49 93.5 663.49 92.5 663.5 91.5 663.5 90.5 663.49 89.5 663.48 88.5 663.44 87.5 663.41 86.5 663.37 85.5 663.31 84.5 663.29 82.5 663.27 81.52 663.29 80.1 663.37 79.18 663.48 78.19 663.57 77.19 663.74 75.78 663.96 74.9 664.21 73.93 664.71 72.04 665.14 71.2 665.56 70.28 666.33 68.83 666.96 68.05 667.64 67.31 668.65 66.15 669.51 65.52 670.34 64.96 671.73 64.09 672.75 63.68 673.69 63.33 675.53 62.68 676.61 62.45 677.59 62.27 678.57 62.08 679.97 61.83 681.05 61.74 682.47 61.65 682.5 62.5Z"/>
<path fill="#FFEED4" stroke="#000000" stroke-width="4.17" stroke-linecap="butt" stroke-linejoin="miter" d="M782.5 62.5 783.5 62.53 784.5 62.57 785.5 62.67 786.5 62.7 787.5 62.77 788.5 62.81 789.5 62.85 790.5 62.9 791.5 62.97 792.5 63.03 793.5 63.09 794.5 63.17 795.5 63.22 796.5 63.26 797.5 63.29 798.5 63.32 799.5 63.34 800.5 63.39 801.5 63.42 802.5 63.45 803.5 63.48 804.5 63.49 805.5 63.5 806.5 63.5 807.5 63.49 808.5 63.48 809.5 63.45 810.5 63.44 811.5 63.4 812.5 63.35 813.5 63.31 814.5 63.27 815.5 63.23 817.5 63.19 818.48 63.16 819.9 63.16 820.83 63.26 821.83 63.33 822.83 63.44 824.24 63.58 825.16 63.77 826.13 64.02 828.02 64.53 828.88 65 829.77 65.46 831.21 66.27 831.99 66.93 832.78 67.55 833.91 68.59 834.55 69.47 835.09 70.31 835.98 71.69 836.41 72.72 836.79 73.65 837.48 75.48 837.68 76.59 837.85 77.57 838.01 78.56 838.23 79.96 838.3 81.05 838.39 82.47 838.43 83.5 838.46 84.5 838.48 85.5 838.49 86.5 838.5 87.5 838.5 88.5 838.5 89.5 838.5 90.5 838.48 91.5 838.48 92.5 838.45 93.5 838.43 94.5 838.41 95.5 838.4 96.5 838.38 97.5 838.36 98.5 838.3 99.5 838.22 100.5 838.19 101.5 838.12 102.5 838.07 103.5 838.03 104.5 837.94 105.5 837.91 106.5 837.88 107.5 837.85 108.5 837.8 109.5 837.73 110.5 837.69 111.5 837.6 112.5 837.55 113.5 837.5 114.5 837.46 115.5 837.36 117.5 837.28 118.49 837.17 119.91 836.97 120.87 836.72 121.84 836.54 122.83 836.3 124.23 835.94 125.06 835.57 126 834.88 127.83 834.41 128.53 833.83 129.35 832.97 130.75 832.36 131.28 831.63 131.95 830.52 133.02 829.84 133.39 828.96 133.88 827.55 134.72 826.79 134.93 825.84 135.24 823.98 135.85 823.17 135.95 822.18 136.1 821.19 136.25 819.78 136.46 818.89 136.51 817.47 136.58 816.5 136.61 815.5 136.64 814.5 136.66 813.5 136.73 812.5 136.8 811.5 136.9 810.5 136.95 809.5 137 808.5 137.04 807.5 137.14 806.5 137.2 805.5 137.23 804.5 137.26 803.5 137.32 802.5 137.39 801.5 137.44 800.5 137.51 799.5 137.54 798.5 137.59 797.5 137.63 796.5 137.69 795.5 137.8 794.5 137.85 793.5 137.89 792.5 137.94 791.5 138 790.5 138.03 789.5 138.06 788.5 138.1 787.5 138.13 786.5 138.19 785.5 138.23 784.5 138.26 782.5 138.31 781.47 138.31 780.05 138.28 778.96 138.17 777.97 138.05 776.98 137.92 775.57 137.74 774.45 137.4 773.5 137.1 771.64 136.48 770.58 135.89 769.72 135.37 768.31 134.53 767.42 133.67 766.72 132.95 765.65 131.85 765.03 130.78 764.53 129.92 763.72 128.48 763.37 127.35 763.07 126.4 762.47 124.54 762.37 123.41 762.27 122.41 762.21 121.41 762.04 120 762.08 118.94 762.07 117.51 762.14 116.5 762.25 115.5 762.32 114.5 762.42 113.5 762.48 112.5 762.6 111.5 762.67 110.5 762.79 109.5 762.84 108.5 762.87 107.5 762.96 106.5 763.02 105.5 763.1 104.5 763.17 103.5 763.22 102.5 763.29 101.5 763.34 100.5 763.36 99.5 763.39 98.5 763.41 97.5 763.43 96.5 763.46 95.5 763.48 94.5 763.49 93.5 763.49 92.5 763.5 91.5 763.5 90.5 763.49 89.5 763.48 88.5 763.44 87.5 763.41 86.5 763.37 85.5 763.31 84.5 763.29 82.5 763.27 81.52 763.29 80.1 763.37 79.18 763.48 78.19 763.57 77.19 763.74 75.78 763.96 74.9 764.21 73.93 764.71 72.04 765.14 71.2 765.56 70.28 766.33 68.83 766.96 68.05 767.64 67.31 768.65 66.15 769.51 65.52 770.34 64.96 771.73 64.09 772.75 63.68 773.69 63.33 775.53 62.68 776.61 62.45 777.59 62.27 778.57 62.08 779.97 61.83 781.05 61.74 782.47 61.65 782.5 62.5Z"/>
<path fill="#000000" stroke="#000000" stroke-width="2.08" stroke-linecap="butt" stroke-linejoin="miter" d="M400 90 400.99 90.06 402.9 90.48 404.65 91.32 406.24 92.42 406.89 93.13 407.52 93.87 408.55 95.48 409.21 97.24 409.5 99.1 409.47 100.02 409.38 100.97 408.92 102.78 408.17 104.44 407.11 105.92 406.49 106.53 405.79 107.15 404.25 108.14 402.57 108.76 400.81 109.06 399.97 109.05 399.04 108.99 397.28 108.61 395.67 107.91 394.21 106.92 393.6 106.35 392.96 105.68 391.95 104.19 391.28 102.56 390.92 100.81 390.84 99.97 390.84 99.04 391.17 97.24 391.84 95.56 392.83 94.04 393.39 93.36 394.05 92.68 395.59 91.62 397.27 90.85 399.09 90.46 400.01 90.38 400 90Z"/>
<path fill="#000000" stroke="#000000" stroke-width="2.08" stroke-linecap="butt" stroke-linejoin="miter" d="M400 190 400.99 190.06 402.9 190.48 404.65 191.32 406.24 192.42 406.89 193.13 407.52 193.87 408.55 195.48 409.21 197.24 409.5 199.1 409.47 200.02 409.38 200.97 408.92 202.78 408.17 204.44 407.11 205.92 406.49 206.53 405.79 207.15 404.25 208.14 402.57 208.76 400.81 209.06 399.97 209.05 399.04 208.99 397.28 208.61 395.67 207.91 394.21 206.92 393.6 206.35 392.96 205.68 391.95 204.19 391.28 202.56 390.92 200.81 390.84 199.97 390.84 199.04 391.17 197.24 391.84 195.56 392.83 194.04 393.39 193.36 394.05 192.68 395.59 191.62 397.27 190.85 399.09 190.46 400.01 190.38 400 190Z"/>
<path fill="#D6F5E3" stroke="#000000" stroke-width="2.08" stroke-linecap="butt" stroke-linejoin="miter" d="M400 270 401 270.06 402.97 270.17 403.92 270.46 404.9 270.69 405.86 270.95 406.83 271.19 408.67 271.59 409.51 272.01 410.41 272.46 411.31 272.89 412.21 273.32 413.89 274.11 414.58 274.65 415.39 275.24 416.2 275.82 417.02 276.39 418.57 277.45 419.16 278.09 420.58 279.46 421.2 280.17 422.53 281.63 422.98 282.34 423.52 283.18 424.08 284.01 424.64 284.84 425.7 286.39 426.02 287.14 426.41 288.06 426.82 288.97 427.26 289.87 428 291.57 428.19 292.39 428.43 293.36 428.66 294.34 428.92 295.31 429.33 297.14 429.39 298.04 429.53 300.02 429.53 300.98 429.52 302.96 429.44 303.9 429.32 304.9 429.23 305.9 429.08 306.89 428.77 308.74 428.43 309.69 428.12 310.65 427.85 311.61 427.53 312.57 426.9 314.31 426.33 315.23 425.82 316.09 425.32 316.96 424.82 317.83 423.84 319.44 423.11 320.28 421.78 321.74 421.03 322.48 419.6 323.84 418.68 324.5 417.87 325.1 417.06 325.68 416.25 326.27 414.69 327.32 413.6 327.81 412.68 328.2 411.76 328.58 410.84 328.96 409.12 329.67 407.95 329.91 406.97 330.1 405.99 330.27 405 330.45 403.15 330.8 402 330.83 400.03 330.87 398.97 330.82 397 330.7 395.9 330.41 394.93 330.18 393.96 329.92 392.99 329.67 391.16 329.27 390.17 328.77 389.25 328.37 388.34 327.95 387.43 327.54 385.74 326.78 384.89 326.15 384.08 325.56 383.3 324.93 382.5 324.33 380.96 323.25 380.25 322.54 378.89 321.11 378.24 320.36 376.94 318.87 376.46 318.03 376 317.14 375.47 316.29 374.96 315.43 373.97 313.83 373.68 312.99 373.37 312.03 373.02 311.1 372.7 310.15 372.01 308.42 371.89 307.59 371.74 306.6 371.56 305.62 371.38 304.64 371.04 302.79 371.03 301.94 370.98 299.97 371.02 299.03 371.09 297.06 371.28 296.24 371.47 295.26 371.65 294.28 371.84 293.3 372.18 291.45 372.49 290.69 372.84 289.75 373.2 288.82 373.56 287.89 374.2 286.15 374.63 285.41 375.1 284.52 375.62 283.66 376.13 282.8 377.14 281.22 377.7 280.47 379.01 279 379.7 278.3 381.12 276.93 381.89 276.35 382.68 275.73 383.49 275.14 384.28 274.53 385.83 273.46 386.74 273.03 387.65 272.61 388.55 272.17 389.43 271.68 391.13 270.93 392.16 270.67 393.14 270.43 394.1 270.18 395.08 269.95 396.92 269.54 398.01 269.47 399.98 269.37 400 270Z"/>
<path fill="#000000" stroke="#000000" stroke-width="2.08" stroke-linecap="butt" stroke-linejoin="miter" d="M500 90 500.99 90.06 502.9 90.48 504.65 91.32 506.24 92.42 506.89 93.13 507.52 93.87 508.55 95.48 509.21 97.24 509.5 99.1 509.47 100.02 509.38 100.97 508.92 102.78 508.17 104.44 507.11 105.92 506.49 106.53 505.79 107.15 504.25 108.14 502.57 108.76 500.81 109.06 499.97 109.05 499.04 108.99 497.28 108.61 495.67 107.91 494.21 106.92 493.6 106.35 492.96 105.68 491.95 104.19 491.28 102.56 490.92 100.81 490.84 99.97 490.84 99.04 491.17 97.24 491.84 95.56 492.83 94.04 493.39 93.36 494.05 92.68 495.59 91.62 497.27 90.85 499.09 90.46 500.01 90.38 500 90Z"/>
<path fill="#000000" stroke="#000000" stroke-width="2.08" stroke-linecap="butt" stroke-linejoin="miter" d="M700 390 700.99 390.06 702.9 390.48 704.65 391.32 706.24 392.42 706.89 393.13 707.52 393.87 708.55 395.48 709.21 397.24 709.5 399.1 709.47 400.02 709.38 400.97 708.92 402.78 708.17 404.44 707.11 405.92 706.49 406.53 705.79 407.15 704.25 408.14 702.57 408.76 700.81 409.06 699.97 409.05 699.04 408.99 697.28 408.61 695.67 407.91 694.21 406.92 693.6 406.35 692.96 405.68 691.95 404.19 691.28 402.56 690.92 400.81 690.84 399.97 690.84 399.04 691.17 397.24 691.84 395.56 692.83 394.04 693.39 393.36 694.05 392.68 695.59 391.62 697.27 390.85 699.09 390.46 700.01 390.38 700 390Z"/>
<path fill="none" stroke="#000000" stroke-width="4.17" stroke-linecap="butt" stroke-linejoin="miter" d="M777.5 111.25 777.57 110.25 777.64 109.21 777.95 108.26 778.19 107.29 778.48 106.33 778.74 105.31 779.17 104.47 779.63 103.59 780.11 102.7 780.6 101.74 781.18 101.06 781.84 100.3 782.47 99.52 783.18 98.61 783.84 98.03 784.66 97.25 785.4 96.65 786.3 95.95 787.05 95.53 787.92 95.04 788.79 94.54 789.9 93.87 790.68 93.6 791.61 93.25 792.54 92.89 793.79 92.4 794.6 92.24 795.58 92.04 796.56 91.83 797.92 91.52 798.79 91.47 800.02 91.39 800.98 91.38 802.21 91.39 803.1 91.49 804.09 91.63 805.08 91.77 806.47 91.95 807.33 92.25 808.29 92.55 809.26 92.8 810.54 93.21 811.42 93.62 812.3 94.1 813.18 94.57 814.32 95.21 815.14 95.8 816.09 96.46 816.86 97.12 817.73 97.86 818.39 98.7 819.02 99.48 819.66 100.25 820.4 101.14 820.95 102.14 821.38 103.04 821.82 103.94 822.29 104.91 822.57 106.04 822.81 107.02 823.07 107.98 823.33 109.01 823.42 110.17 823.48 111.21"/>
<path fill="#FFEED4" stroke="#000000" stroke-width="4.17" stroke-linecap="butt" stroke-linejoin="miter" d="M818.49 72.94 817.71 73.57 816.92 74.19 816.1 74.77 815.32 75.39 814.51 75.99 813.73 76.61 812.94 77.23 812.15 77.84 811.34 78.44 810.55 79.05 809.75 79.66 808.94 80.24 808.15 80.86 806.73 82.01 807.68 83.78 808.52 84.32 809.37 84.85 810.75 85.74 809.9 85.36 809.36 86.2 808.83 87.04 808.3 87.9 807.78 88.75 807.26 89.61 806.76 90.47 806.25 91.33 805.77 92.2 805.26 93.07 804.77 93.94 804.31 94.83 803.83 95.71 803.34 96.58 802.87 97.46 802.38 98.34 801.92 99.23 801.44 100.11 800.96 100.99 800.51 101.88 800.03 102.76 799.56 103.64 799.14 104.56 798.69 105.45 798.27 106.37 797.8 107.25 797.34 108.14 796.86 109.02 796.42 109.92 796 110.84 795.55 111.73 795.11 112.63 794.62 113.51 794.15 114.39 793.69 115.28 793.24 116.17 792.79 117.07 792.3 117.94 791.81 118.81 791.31 119.68 790.81 120.55 790.32 121.42 789.47 122.93 789.27 121.73 788.48 121.17 788.98 120.31 789.48 119.44 790 118.58 790.51 117.72 791.02 116.87 791.54 116.01 792.06 115.16 792.59 114.31 793.12 113.46 793.65 112.61 794.18 111.77 794.71 110.92 795.25 110.07 795.77 109.22 796.34 108.4 796.92 107.58 797.46 106.74 798.04 105.91 798.6 105.08 799.14 104.24 799.73 103.43 800.27 102.59 800.81 101.75 801.35 100.91 801.92 100.08 802.49 99.25 803.03 98.42 803.63 97.61 804.19 96.78 804.74 95.94 805.29 95.1 805.89 94.3 806.44 93.47 807.01 92.64 807.59 91.82 808.19 91.02 808.74 90.18 809.29 89.34 809.86 88.52 810.42 87.69 811 86.87 811.92 85.4 811.74 86.23 812.58 86.76 813.43 87.3 814.81 88.18 816.38 86.63 816.61 85.66 816.85 84.69 817.08 83.72 817.31 82.74 817.54 81.77 817.76 80.79 817.98 79.82 818.19 78.84 818.4 77.86 818.61 76.88 818.8 75.9 818.99 74.92 819.35 73.13Z"/>
<path fill="none" stroke="#000000" stroke-width="2.08" stroke-linecap="square" stroke-linejoin="round" d="M400 270 399.97 271 399.93 272 399.83 273 399.8 274 399.73 275 399.69 276 399.65 277 399.6 278 399.53 279 399.47 280 399.41 281 399.33 282 399.28 283 399.24 284 399.21 285 399.18 286 399.16 287 399.11 288 399.08 289 399.05 290 399.02 291 399.01 292 399 293 399 294 399.01 295 399.02 296 399.05 297 399.06 298 399.1 299 399.15 300 399.19 301 399.23 302 399.27 303 399.31 304 399.37 305 399.41 306 399.46 307 399.53 308 399.56 309 399.62 310 399.73 311 399.8 312 399.92 313 399.96 314 400.02 315 400.07 316 400.15 317 400.27 318 400.34 319 400.42 320 400.46 321 400.51 322 400.58 323 400.64 324 400.72 325 400.75 326 400.77 327 400.8 328 400.82 330"/>
<path fill="none" stroke="#000000" stroke-width="2.08" stroke-linecap="square" stroke-linejoin="round" d="M370 300 371 300.03 372 300.07 373 300.17 374 300.2 375 300.27 376 300.31 377 300.35 378 300.4 379 300.47 380 300.53 381 300.59 382 300.67 383 300.72 384 300.76 385 300.79 386 300.82 387 300.84 388 300.89 389 300.92 390 300.95 391 300.98 392 300.99 393 301 394 301 395 300.99 396 300.98 397 300.95 398 300.94 399 300.9 400 300.85 401 300.81 402 300.77 403 300.73 404 300.69 405 300.63 406 300.59 407 300.54 408 300.47 409 300.44 410 300.38 411 300.27 412 300.2 413 300.08 414 300.04 415 299.98 416 299.93 417 299.85 418 299.73 419 299.66 420 299.58 421 299.54 422 299.49 423 299.42 424 299.36 425 299.28 426 299.25 427 299.23 428 299.2 430 299.18"/>
<text font-size="19.444" stroke="#000" stroke-width="0.220" stroke-linejoin="round" transform="translate(44.044 106.409) scale(1.2323 0.9946)">0</text>
<text font-size="19.444" stroke="#000" stroke-width="0.227" stroke-linejoin="round" transform="translate(43.733 206.460) scale(1.1313 1.0898)">1</text>
<text font-size="19.444" stroke="#000" stroke-width="0.146" stroke-linejoin="round" transform="translate(44.797 306.413) scale(1.1143 1.0174)">2</text>
<text font-size="19.444" stroke="#000" stroke-width="0.225" stroke-linejoin="round" transform="translate(44.087 405.927) scale(1.1792 1.0493)">3</text>
<text font-size="19.444" stroke="#000" stroke-width="0.266" stroke-linejoin="round" letter-spacing="0.200" transform="translate(178.285 255.265) scale(1.0900 0.9222)">QFT</text>
<text font-size="19.444" stroke="#000" stroke-width="0.187" stroke-linejoin="round" letter-spacing="0.047" transform="translate(306.097 244.373) rotate(-90) scale(1.1490 1.0542)">IsingXX</text>
<text font-size="19.444" stroke="#000" stroke-width="0.690" stroke-linejoin="round" letter-spacing="0.020" transform="translate(586.860 106.062) scale(1.0105 1.0383)">RX</text>
<text font-size="19.444" stroke="#000" stroke-width="0.245" stroke-linejoin="round" transform="translate(686.550 106.197) scale(1.0445 1.0012)">RZ</text>
</svg>
</body></html>
